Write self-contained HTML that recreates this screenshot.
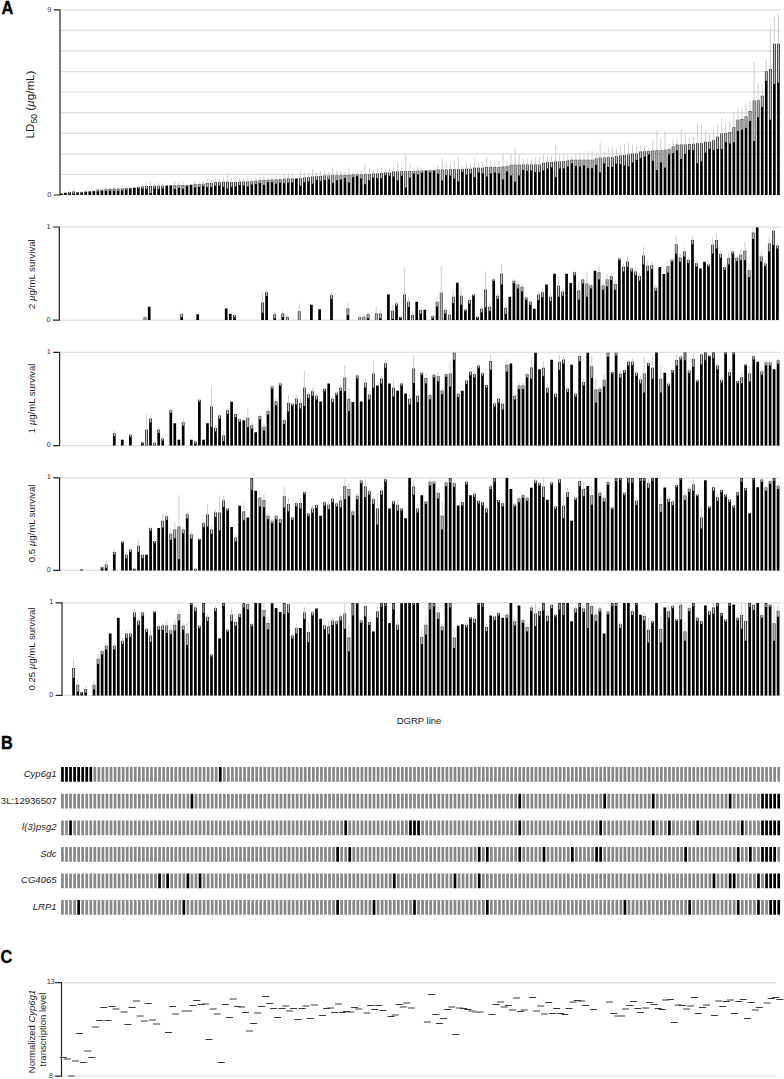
<!DOCTYPE html>
<html><head><meta charset="utf-8"><title>Figure</title>
<style>html,body{margin:0;padding:0;background:#fff;overflow:hidden;}svg{display:block;}</style>
</head><body>
<svg width="784" height="1079" viewBox="0 0 784 1079" font-family='"Liberation Sans", sans-serif'><text transform="translate(1.4 14.2) scale(0.87 1)" font-size="18.9" font-weight="bold" fill="#000" stroke="#000" stroke-width="0.35">A</text><text transform="translate(1.0 748.7) scale(0.86 1)" font-size="18.9" font-weight="bold" fill="#000" stroke="#000" stroke-width="0.35">B</text><text transform="translate(0.6 963.3) scale(0.86 1)" font-size="18.9" font-weight="bold" fill="#000" stroke="#000" stroke-width="0.35">C</text><path d="M60.5 174.43H780.5M60.5 153.87H780.5M60.5 133.3H780.5M60.5 112.73H780.5M60.5 92.17H780.5M60.5 71.6H780.5M60.5 51.03H780.5M60.5 30.47H780.5M60.5 9.9H780.5" stroke="#e0e0e0" stroke-width="1.35" fill="none"/><path d="M60.05 193.4h2.7v1.6h-2.7zM64.1 192.78h2.7v2.22h-2.7zM68.15 191.91h2.7v3.09h-2.7zM72.2 191.5h2.7v3.5h-2.7zM76.25 192.33h2.7v2.67h-2.7zM80.31 191.91h2.7v3.09h-2.7zM84.36 191.5h2.7v3.5h-2.7zM88.41 191.3h2.7v3.7h-2.7zM92.46 191.09h2.7v3.91h-2.7zM96.51 189.86h2.7v5.14h-2.7zM100.56 189.65h2.7v5.35h-2.7zM104.61 189.24h2.7v5.76h-2.7zM108.66 189.04h2.7v5.96h-2.7zM112.71 188.83h2.7v6.17h-2.7zM116.76 188.83h2.7v6.17h-2.7zM120.81 188.62h2.7v6.38h-2.7zM124.87 188.01h2.7v6.99h-2.7zM128.92 188.01h2.7v6.99h-2.7zM132.97 187.8h2.7v7.2h-2.7zM137.02 186.98h2.7v8.02h-2.7zM141.07 186.57h2.7v8.43h-2.7zM145.12 185.95h2.7v9.05h-2.7zM149.17 185.95h2.7v9.05h-2.7zM153.22 185.75h2.7v9.25h-2.7zM157.27 185.75h2.7v9.25h-2.7zM161.33 185.75h2.7v9.25h-2.7zM165.38 185.54h2.7v9.46h-2.7zM169.43 185.33h2.7v9.67h-2.7zM173.48 185.13h2.7v9.87h-2.7zM177.53 184.92h2.7v10.08h-2.7zM181.58 184.92h2.7v10.08h-2.7zM185.63 184.92h2.7v10.08h-2.7zM189.68 184.72h2.7v10.28h-2.7zM193.73 184.31h2.7v10.69h-2.7zM197.78 183.89h2.7v11.11h-2.7zM201.84 183.69h2.7v11.31h-2.7zM205.89 183.07h2.7v11.93h-2.7zM209.94 183.07h2.7v11.93h-2.7zM213.99 182.25h2.7v12.75h-2.7zM218.04 182.25h2.7v12.75h-2.7zM222.09 181.84h2.7v13.16h-2.7zM226.14 181.84h2.7v13.16h-2.7zM230.19 182.35h2.7v12.65h-2.7zM234.24 182.1h2.7v12.9h-2.7zM238.29 181.59h2.7v13.41h-2.7zM242.35 181.59h2.7v13.41h-2.7zM246.4 181.59h2.7v13.41h-2.7zM250.45 181.32h2.7v13.68h-2.7zM254.5 180.69h2.7v14.31h-2.7zM258.55 180.32h2.7v14.68h-2.7zM262.6 180.05h2.7v14.95h-2.7zM266.65 179.8h2.7v15.2h-2.7zM270.7 179.41h2.7v15.59h-2.7zM274.75 179.41h2.7v15.59h-2.7zM278.8 179.16h2.7v15.84h-2.7zM282.85 178.77h2.7v16.23h-2.7zM286.91 178.53h2.7v16.47h-2.7zM290.96 178.53h2.7v16.47h-2.7zM295.01 178.53h2.7v16.47h-2.7zM299.06 178.26h2.7v16.74h-2.7zM303.11 177.5h2.7v17.5h-2.7zM307.16 177.25h2.7v17.75h-2.7zM311.21 176.49h2.7v18.51h-2.7zM315.26 176.22h2.7v18.78h-2.7zM319.31 175.98h2.7v19.02h-2.7zM323.36 175.52h2.7v19.48h-2.7zM327.42 175.46h2.7v19.54h-2.7zM331.47 175.21h2.7v19.79h-2.7zM335.52 175.21h2.7v19.79h-2.7zM339.57 175.21h2.7v19.79h-2.7zM343.62 174.97h2.7v20.03h-2.7zM347.67 174.97h2.7v20.03h-2.7zM351.72 174.58h2.7v20.42h-2.7zM355.77 174.58h2.7v20.42h-2.7zM359.82 174.58h2.7v20.42h-2.7zM363.87 174.23h2.7v20.77h-2.7zM367.93 174.23h2.7v20.77h-2.7zM371.98 173.41h2.7v21.59h-2.7zM376.03 173.41h2.7v21.59h-2.7zM380.08 172.99h2.7v22.01h-2.7zM384.13 172.58h2.7v22.42h-2.7zM388.18 172.38h2.7v22.62h-2.7zM392.23 171.55h2.7v23.45h-2.7zM396.28 171.55h2.7v23.45h-2.7zM400.33 171.35h2.7v23.65h-2.7zM404.38 170.94h2.7v24.06h-2.7zM408.44 170.94h2.7v24.06h-2.7zM412.49 170.94h2.7v24.06h-2.7zM416.54 170.63h2.7v24.37h-2.7zM420.59 170.42h2.7v24.58h-2.7zM424.64 170.53h2.7v24.47h-2.7zM428.69 170.32h2.7v24.68h-2.7zM432.74 169.91h2.7v25.09h-2.7zM436.79 169.5h2.7v25.5h-2.7zM440.84 169.5h2.7v25.5h-2.7zM444.89 169.5h2.7v25.5h-2.7zM448.95 169.29h2.7v25.71h-2.7zM453 169.29h2.7v25.71h-2.7zM457.05 169.29h2.7v25.71h-2.7zM461.1 168.88h2.7v26.12h-2.7zM465.15 168.67h2.7v26.33h-2.7zM469.2 168.67h2.7v26.33h-2.7zM473.25 167.85h2.7v27.15h-2.7zM477.3 167.65h2.7v27.35h-2.7zM481.35 167.65h2.7v27.35h-2.7zM485.4 167.03h2.7v27.97h-2.7zM489.46 167.03h2.7v27.97h-2.7zM493.51 167.03h2.7v27.97h-2.7zM497.56 167.03h2.7v27.97h-2.7zM501.61 166.62h2.7v28.38h-2.7zM505.66 166.21h2.7v28.79h-2.7zM509.71 164.77h2.7v30.23h-2.7zM513.76 164.77h2.7v30.23h-2.7zM517.81 164.77h2.7v30.23h-2.7zM521.86 164.56h2.7v30.44h-2.7zM525.91 164.56h2.7v30.44h-2.7zM529.97 164.56h2.7v30.44h-2.7zM534.02 164.56h2.7v30.44h-2.7zM538.07 164.56h2.7v30.44h-2.7zM542.12 162.71h2.7v32.29h-2.7zM546.17 162.3h2.7v32.7h-2.7zM550.22 161.89h2.7v33.11h-2.7zM554.27 161.48h2.7v33.52h-2.7zM558.32 161.48h2.7v33.52h-2.7zM562.37 161.27h2.7v33.73h-2.7zM566.42 160.45h2.7v34.55h-2.7zM570.48 159.83h2.7v35.17h-2.7zM574.53 159.83h2.7v35.17h-2.7zM578.58 159.63h2.7v35.37h-2.7zM582.63 159.63h2.7v35.37h-2.7zM586.68 159.63h2.7v35.37h-2.7zM590.73 159.63h2.7v35.37h-2.7zM594.78 158.39h2.7v36.61h-2.7zM598.83 157.57h2.7v37.43h-2.7zM602.88 157.57h2.7v37.43h-2.7zM606.93 157.36h2.7v37.64h-2.7zM610.99 157.16h2.7v37.84h-2.7zM615.04 156.33h2.7v38.67h-2.7zM619.09 155.51h2.7v39.49h-2.7zM623.14 154.9h2.7v40.1h-2.7zM627.19 154.48h2.7v40.52h-2.7zM631.24 153.46h2.7v41.54h-2.7zM635.29 153.46h2.7v41.54h-2.7zM639.34 151.6h2.7v43.4h-2.7zM643.39 151.19h2.7v43.81h-2.7zM647.44 150.99h2.7v44.01h-2.7zM651.5 150.58h2.7v44.42h-2.7zM655.55 150.37h2.7v44.63h-2.7zM659.6 150.37h2.7v44.63h-2.7zM663.65 149.75h2.7v45.25h-2.7zM667.7 149.14h2.7v45.86h-2.7zM671.75 146.46h2.7v48.54h-2.7zM675.8 144.61h2.7v50.39h-2.7zM679.85 144.41h2.7v50.59h-2.7zM683.9 144.41h2.7v50.59h-2.7zM687.95 143.99h2.7v51.01h-2.7zM692.01 143.79h2.7v51.21h-2.7zM696.06 143.17h2.7v51.83h-2.7zM700.11 143.17h2.7v51.83h-2.7zM704.16 141.73h2.7v53.27h-2.7zM708.21 141.73h2.7v53.27h-2.7zM712.26 140.29h2.7v54.71h-2.7zM716.31 136.8h2.7v58.2h-2.7zM720.36 133.51h2.7v61.49h-2.7zM724.41 132.89h2.7v62.11h-2.7zM728.47 132.07h2.7v62.93h-2.7zM732.52 127.13h2.7v67.87h-2.7zM736.57 119.73h2.7v75.27h-2.7zM740.62 119.11h2.7v75.89h-2.7zM744.67 116.23h2.7v78.77h-2.7zM748.72 111.09h2.7v83.91h-2.7zM752.77 100.6h2.7v94.4h-2.7zM756.82 100.19h2.7v94.81h-2.7zM760.87 95.87h2.7v99.13h-2.7zM764.92 71.19h2.7v123.81h-2.7zM768.98 68.93h2.7v126.07h-2.7zM773.03 43.63h2.7v151.37h-2.7zM777.08 43.63h2.7v151.37h-2.7z" fill="#000"/><path d="M68.7 192.47h1.6v1.1h-1.6zM72.75 192.05h1.6v1.71h-1.6zM80.86 192.47h1.6v0.48h-1.6zM84.91 192.05h1.6v0.27h-1.6zM88.96 191.85h1.6v0.07h-1.6zM93.01 191.64h1.6v0.07h-1.6zM97.06 190.41h1.6v1.1h-1.6zM101.11 190.2h1.6v0.89h-1.6zM105.16 189.79h1.6v1.1h-1.6zM109.21 189.59h1.6v1.1h-1.6zM113.26 189.38h1.6v1.51h-1.6zM117.31 189.38h1.6v1.51h-1.6zM121.36 189.17h1.6v1.3h-1.6zM125.42 188.56h1.6v1.1h-1.6zM129.47 188.56h1.6v0.48h-1.6zM137.57 187.53h1.6v0.89h-1.6zM141.62 187.12h1.6v1.51h-1.6zM145.67 186.5h1.6v2.53h-1.6zM149.72 186.5h1.6v6.65h-1.6zM153.77 186.3h1.6v2.12h-1.6zM157.82 186.3h1.6v2.74h-1.6zM161.88 186.3h1.6v2.12h-1.6zM174.03 185.68h1.6v3.36h-1.6zM178.08 185.47h1.6v2.53h-1.6zM182.13 185.47h1.6v3.56h-1.6zM186.18 185.47h1.6v0.89h-1.6zM194.28 184.86h1.6v2.54h-1.6zM198.33 184.44h1.6v2.53h-1.6zM202.39 184.24h1.6v2.12h-1.6zM206.44 183.62h1.6v3.56h-1.6zM210.49 183.62h1.6v3.36h-1.6zM214.54 182.8h1.6v3.15h-1.6zM218.59 182.8h1.6v2.95h-1.6zM222.64 182.39h1.6v4.39h-1.6zM226.69 182.39h1.6v6.03h-1.6zM230.74 182.9h1.6v3.79h-1.6zM234.79 182.65h1.6v3.79h-1.6zM238.84 182.14h1.6v3.03h-1.6zM242.9 182.14h1.6v3.28h-1.6zM246.95 182.14h1.6v4.3h-1.6zM251 181.87h1.6v2.66h-1.6zM255.05 181.24h1.6v2.66h-1.6zM259.1 180.87h1.6v2.39h-1.6zM263.15 180.6h1.6v4.3h-1.6zM267.2 180.35h1.6v2h-1.6zM271.25 179.96h1.6v2.39h-1.6zM275.3 179.96h1.6v3.67h-1.6zM279.35 179.71h1.6v2.91h-1.6zM283.4 179.32h1.6v3.93h-1.6zM287.46 179.08h1.6v3.54h-1.6zM291.51 179.08h1.6v3.54h-1.6zM299.61 178.81h1.6v7h-1.6zM303.66 178.05h1.6v4.3h-1.6zM307.71 177.8h1.6v3.79h-1.6zM311.76 177.04h1.6v6.59h-1.6zM315.81 176.77h1.6v3.28h-1.6zM319.86 176.53h1.6v4.55h-1.6zM323.91 176.07h1.6v4.2h-1.6zM327.97 176.01h1.6v3.19h-1.6zM332.02 175.76h1.6v7.27h-1.6zM336.07 175.76h1.6v4.47h-1.6zM340.12 175.76h1.6v3.83h-1.6zM344.17 175.52h1.6v2.41h-1.6zM348.22 175.52h1.6v7h-1.6zM352.27 175.13h1.6v2.02h-1.6zM356.32 175.13h1.6v1.14h-1.6zM360.37 175.13h1.6v3.32h-1.6zM364.42 174.78h1.6v9.53h-1.6zM368.48 174.78h1.6v5.46h-1.6zM372.53 173.96h1.6v3.71h-1.6zM376.58 173.96h1.6v4.37h-1.6zM380.63 173.54h1.6v4.78h-1.6zM384.68 173.13h1.6v2.08h-1.6zM388.73 172.93h1.6v2.95h-1.6zM392.78 172.1h1.6v4.28h-1.6zM396.83 172.1h1.6v8.38h-1.6zM400.88 171.9h1.6v3.97h-1.6zM404.94 171.49h1.6v16.13h-1.6zM408.99 171.49h1.6v6.18h-1.6zM413.04 171.49h1.6v2.33h-1.6zM417.09 171.18h1.6v3.3h-1.6zM421.14 170.97h1.6v1.61h-1.6zM429.24 170.87h1.6v1.3h-1.6zM433.29 170.46h1.6v0.68h-1.6zM437.34 170.05h1.6v3.77h-1.6zM441.39 170.05h1.6v10.39h-1.6zM445.44 170.05h1.6v5.27h-1.6zM449.5 169.84h1.6v5.74h-1.6zM453.55 169.84h1.6v8.68h-1.6zM457.6 169.84h1.6v11.63h-1.6zM461.65 169.43h1.6v2.33h-1.6zM465.7 169.22h1.6v5.46h-1.6zM469.75 169.22h1.6v4.18h-1.6zM473.8 168.4h1.6v8.85h-1.6zM477.85 168.2h1.6v4.39h-1.6zM481.9 168.2h1.6v5.21h-1.6zM485.95 167.58h1.6v9.03h-1.6zM490.01 167.58h1.6v5.83h-1.6zM494.06 167.58h1.6v5h-1.6zM498.11 167.58h1.6v5.83h-1.6zM502.16 167.17h1.6v12.24h-1.6zM506.21 166.76h1.6v4.8h-1.6zM510.26 165.32h1.6v10.27h-1.6zM514.31 165.32h1.6v16.4h-1.6zM518.36 165.32h1.6v10.25h-1.6zM522.41 165.11h1.6v5h-1.6zM526.46 165.11h1.6v5.62h-1.6zM530.52 165.11h1.6v5.41h-1.6zM534.57 165.11h1.6v7.06h-1.6zM538.62 165.11h1.6v7.06h-1.6zM542.67 163.26h1.6v7.27h-1.6zM546.72 162.85h1.6v5.62h-1.6zM550.77 162.44h1.6v5h-1.6zM554.82 162.03h1.6v15.27h-1.6zM558.87 162.03h1.6v6.44h-1.6zM562.92 161.82h1.6v6.65h-1.6zM566.97 161h1.6v5.41h-1.6zM571.03 160.38h1.6v2.95h-1.6zM575.08 160.38h1.6v5.62h-1.6zM579.13 160.18h1.6v6.24h-1.6zM583.18 160.18h1.6v5.41h-1.6zM587.23 160.18h1.6v8.09h-1.6zM591.28 160.18h1.6v8.09h-1.6zM595.33 158.94h1.6v6.03h-1.6zM599.38 158.12h1.6v14.26h-1.6zM603.43 158.12h1.6v5.41h-1.6zM607.48 157.91h1.6v9.12h-1.6zM611.54 157.71h1.6v9.32h-1.6zM615.59 156.88h1.6v6.85h-1.6zM619.64 156.06h1.6v8.29h-1.6zM623.69 155.45h1.6v9.94h-1.6zM627.74 155.03h1.6v11.38h-1.6zM631.79 154.01h1.6v8.5h-1.6zM635.84 154.01h1.6v6.03h-1.6zM639.89 152.15h1.6v5.83h-1.6zM643.94 151.74h1.6v5h-1.6zM647.99 151.54h1.6v2.95h-1.6zM652.05 151.13h1.6v9.53h-1.6zM656.1 150.92h1.6v19.19h-1.6zM660.15 150.92h1.6v11.58h-1.6zM664.2 150.3h1.6v17.34h-1.6zM668.25 149.69h1.6v4.8h-1.6zM672.3 147.01h1.6v6.24h-1.6zM676.35 145.16h1.6v5.21h-1.6zM680.4 144.96h1.6v14.05h-1.6zM684.45 144.96h1.6v9.12h-1.6zM688.5 144.54h1.6v5.41h-1.6zM692.56 144.34h1.6v6.03h-1.6zM696.61 143.72h1.6v19.61h-1.6zM700.66 143.72h1.6v17.75h-1.6zM704.71 142.28h1.6v10.35h-1.6zM708.76 142.28h1.6v6.65h-1.6zM712.81 140.84h1.6v9.12h-1.6zM716.86 137.35h1.6v11.58h-1.6zM720.91 134.06h1.6v14.88h-1.6zM724.96 133.44h1.6v8.91h-1.6zM729.01 132.62h1.6v10.97h-1.6zM733.07 127.68h1.6v14.67h-1.6zM737.12 120.28h1.6v10.76h-1.6zM741.17 119.66h1.6v10.14h-1.6zM745.22 116.78h1.6v11.17h-1.6zM749.27 111.64h1.6v9.32h-1.6zM753.32 101.15h1.6v39.97h-1.6zM757.37 100.74h1.6v16.52h-1.6zM761.42 96.42h1.6v10.56h-1.6zM765.47 71.74h1.6v9.12h-1.6zM769.52 69.48h1.6v50.25h-1.6zM773.58 44.18h1.6v39.76h-1.6zM777.63 44.18h1.6v38.53h-1.6z" fill="#8c8c8c"/><path d="M61.4 193.26V193.23M65.45 193.05V192.2M69.5 193.26V190.27M73.55 193.47V189.24M77.6 192.44V191.91M81.66 192.64V190.89M85.71 192.03V190.68M89.76 191.61V190.68M93.81 191.41V190.48M97.86 191.2V188.21M101.91 190.79V188.21M105.96 190.59V187.6M110.01 190.38V187.39M114.06 190.59V186.77M118.11 190.59V186.77M122.16 190.18V186.77M126.22 189.35V186.36M130.27 188.74V186.98M134.32 187.71V187.6M138.37 188.12V185.54M142.42 188.32V184.51M146.47 188.74V182.87M150.52 192.85V180.19M154.57 188.12V183.07M158.62 188.74V182.45M162.68 188.12V183.07M166.73 185.65V185.13M170.78 185.44V184.92M174.83 188.74V181.22M178.88 187.71V181.84M182.93 188.74V180.81M186.98 186.06V183.48M191.03 184.83V184.31M195.08 187.09V181.22M199.13 186.68V180.81M203.19 186.06V181.01M207.24 186.88V178.96M211.29 186.68V179.16M215.34 185.65V178.55M219.39 185.44V178.75M223.44 186.47V176.9M227.49 188.12V175.26M231.54 186.39V178.01M235.59 186.14V177.77M239.64 184.87V178.01M243.7 185.12V177.77M247.75 186.14V176.74M251.8 184.23V178.11M255.85 183.59V177.48M259.9 182.96V177.37M263.95 184.6V175.19M268 182.05V177.25M272.05 182.05V176.47M276.1 183.33V175.19M280.15 182.32V175.71M284.2 182.96V174.29M288.26 182.32V174.43M292.31 182.32V174.43M296.36 178.47V178.28M300.41 185.51V170.71M304.46 182.05V172.64M308.51 181.29V172.91M312.56 183.33V169.35M316.61 179.75V172.4M320.66 180.78V170.88M324.71 179.97V170.77M328.77 178.9V171.72M332.82 182.73V167.4M336.87 179.93V170.2M340.92 179.3V170.83M344.97 177.63V172.01M349.02 182.22V167.42M353.07 176.85V172.01M357.12 175.96V172.89M361.17 178.14V170.71M365.22 184.01V164.15M369.28 179.93V168.22M373.33 177.36V169.15M377.38 178.02V168.49M381.43 178.02V167.67M385.48 174.91V169.95M389.53 175.57V168.88M393.58 176.09V166.72M397.63 180.18V162.63M401.68 175.57V166.82M405.74 187.32V154.26M409.79 177.36V164.21M413.84 173.52V168.06M417.89 174.17V166.78M421.94 172.28V168.26M425.99 170.64V170.11M430.04 171.87V168.47M434.09 170.84V168.67M438.14 173.52V165.18M442.19 180.14V158.56M446.25 175.02V163.68M450.3 175.29V163M454.35 178.23V160.06M458.4 181.17V157.12M462.45 171.46V166M466.5 174.38V162.67M470.55 173.1V163.94M474.6 176.95V158.45M478.65 172.28V162.71M482.7 173.1V161.89M486.75 176.31V157.45M490.81 173.1V160.65M494.86 172.28V161.48M498.91 173.1V160.65M502.96 179.11V153.83M507.01 171.25V160.86M511.06 175.29V153.95M515.11 181.41V147.82M519.16 175.26V153.97M523.21 169.81V159.01M527.26 170.43V158.39M531.32 170.23V158.6M535.37 171.87V156.95M539.42 171.87V156.95M543.47 170.23V154.89M547.52 168.17V156.13M551.57 167.14V156.33M555.62 176.99V145.66M559.67 168.17V154.48M563.72 168.17V154.07M567.77 166.11V154.48M571.83 163.03V156.33M575.88 165.7V153.66M579.93 166.11V152.84M583.98 165.29V153.66M588.03 167.96V150.99M592.08 167.96V150.99M596.13 164.67V151.81M600.18 172.08V142.76M604.23 163.23V151.6M608.28 166.73V147.7M612.34 166.73V147.29M616.39 163.44V148.93M620.44 164.06V146.67M624.49 165.08V144.41M628.54 166.11V142.56M632.59 162.2V144.41M636.64 159.74V146.87M640.69 157.68V145.23M644.74 156.45V145.64M648.79 154.18V147.49M652.85 160.35V140.5M656.9 169.81V130.63M660.95 162.2V138.24M665 167.35V131.86M669.05 154.18V143.79M673.1 152.95V139.68M677.15 150.07V138.85M681.2 158.71V129.8M685.25 153.77V134.74M689.3 149.66V138.03M693.36 150.07V137.21M697.41 163.03V123.02M701.46 161.18V124.87M705.51 152.33V130.83M709.56 148.63V134.53M713.61 149.66V130.63M717.66 148.63V124.66M721.71 148.63V118.08M725.76 142.05V123.43M729.82 143.28V120.55M733.87 142.05V111.91M737.92 130.74V108.41M741.97 129.5V108.41M746.02 127.65V104.51M750.07 120.66V101.22M754.12 140.82V62.14M758.17 116.96V83.12M762.22 106.67V84.76M766.27 80.56V60.29M770.33 119.43V28.41M774.38 83.64V17.1M778.43 82.41V14.42" stroke="#c8c8c8" stroke-width="0.9" fill="none"/><path d="M53.6 9.9H60V195H53.6" stroke="#222" stroke-width="1.2" fill="none"/><text x="49.3" y="196.6" font-size="7.3" text-anchor="middle" fill="#333">0</text><text x="49.3" y="11.5" font-size="7.3" text-anchor="middle" fill="#333">9</text><text transform="translate(34.2 104.5) rotate(-90)" font-size="11.6" text-anchor="middle" fill="#1a1a1a">LD<tspan font-size="8.6" dy="2.6">50</tspan><tspan dy="-2.6"> (</tspan><tspan font-style="italic">µ</tspan>g/mL)</text><path d="M59.8 320.1H780.5M59.8 227H780.5" stroke="#e0e0e0" stroke-width="1.35" fill="none"/><path d="M143.65 317.31h2.7v2.79h-2.7zM147.85 306.69h2.7v13.41h-2.7zM180.35 314.33h2.7v5.77h-2.7zM196.35 314.33h2.7v5.77h-2.7zM224.85 308.56h2.7v11.54h-2.7zM228.95 313.86h2.7v6.24h-2.7zM233.15 315.07h2.7v5.03h-2.7zM261.25 302.41h2.7v17.69h-2.7zM265.25 292.17h2.7v27.93h-2.7zM273.35 314.33h2.7v5.77h-2.7zM281.45 313.58h2.7v6.52h-2.7zM285.95 317.12h2.7v2.98h-2.7zM297.85 311.26h2.7v8.84h-2.7zM310.05 304.65h2.7v15.45h-2.7zM318.25 309.3h2.7v10.8h-2.7zM330.15 295.24h2.7v24.86h-2.7zM346.55 308.56h2.7v11.54h-2.7zM358.45 317.31h2.7v2.79h-2.7zM362.55 316.66h2.7v3.44h-2.7zM366.75 314.33h2.7v5.77h-2.7zM374.85 313.58h2.7v6.52h-2.7zM378.95 313.58h2.7v6.52h-2.7zM387.05 294.4h2.7v25.7h-2.7zM391.25 310.79h2.7v9.31h-2.7zM395.15 303.62h2.7v16.48h-2.7zM399.05 316.93h2.7v3.17h-2.7zM403.15 294.4h2.7v25.7h-2.7zM407.25 301.67h2.7v18.43h-2.7zM411.25 315.07h2.7v5.03h-2.7zM415.35 301.67h2.7v18.43h-2.7zM419.35 310.05h2.7v10.05h-2.7zM423.45 309.77h2.7v10.33h-2.7zM431.45 315.91h2.7v4.19h-2.7zM435.75 301.67h2.7v18.43h-2.7zM439.85 292.64h2.7v27.46h-2.7zM443.85 310.05h2.7v10.05h-2.7zM447.95 314.7h2.7v5.4h-2.7zM451.95 296.73h2.7v23.37h-2.7zM455.95 282.67h2.7v37.43h-2.7zM459.95 295.71h2.7v24.39h-2.7zM464.05 309.49h2.7v10.61h-2.7zM468.05 300.08h2.7v20.02h-2.7zM472.15 294.4h2.7v25.7h-2.7zM476.15 316.66h2.7v3.44h-2.7zM480.25 308.65h2.7v11.45h-2.7zM484.25 289.38h2.7v30.72h-2.7zM488.35 306.69h2.7v13.41h-2.7zM492.35 279.42h2.7v40.68h-2.7zM496.35 295.71h2.7v24.39h-2.7zM500.35 273.74h2.7v46.36h-2.7zM504.35 307.72h2.7v12.38h-2.7zM508.45 296.73h2.7v23.37h-2.7zM512.55 280.63h2.7v39.47h-2.7zM516.55 284.44h2.7v35.66h-2.7zM520.65 286.77h2.7v33.33h-2.7zM524.85 297.48h2.7v22.62h-2.7zM528.95 301.76h2.7v18.34h-2.7zM532.95 308.65h2.7v11.45h-2.7zM537.05 294.4h2.7v25.7h-2.7zM541.05 292.17h2.7v27.93h-2.7zM545.15 284.44h2.7v35.66h-2.7zM549.15 296.73h2.7v23.37h-2.7zM553.15 273.74h2.7v46.36h-2.7zM557.25 285.75h2.7v34.35h-2.7zM561.25 291.43h2.7v28.67h-2.7zM565.25 273.74h2.7v46.36h-2.7zM569.35 282.95h2.7v37.15h-2.7zM573.35 272.25h2.7v47.85h-2.7zM577.45 290.59h2.7v29.51h-2.7zM581.45 279.42h2.7v40.68h-2.7zM585.55 283.42h2.7v36.68h-2.7zM589.55 285.56h2.7v34.54h-2.7zM593.65 270.66h2.7v49.44h-2.7zM597.65 272.25h2.7v47.85h-2.7zM601.75 285.56h2.7v34.54h-2.7zM605.75 279.42h2.7v40.68h-2.7zM609.85 276.34h2.7v43.76h-2.7zM613.85 284.07h2.7v36.03h-2.7zM618.05 258.47h2.7v61.63h-2.7zM622.15 266.85h2.7v53.25h-2.7zM626.15 261.54h2.7v58.56h-2.7zM630.25 268.43h2.7v51.67h-2.7zM634.25 271.5h2.7v48.6h-2.7zM638.25 276.06h2.7v44.04h-2.7zM642.15 255.49h2.7v64.61h-2.7zM646.35 265.64h2.7v54.46h-2.7zM650.45 265.17h2.7v54.93h-2.7zM654.45 287.7h2.7v32.4h-2.7zM658.45 266.94h2.7v53.16h-2.7zM662.55 273.92h2.7v46.18h-2.7zM666.55 266.29h2.7v53.81h-2.7zM670.65 259.77h2.7v60.33h-2.7zM674.85 244.13h2.7v75.97h-2.7zM678.85 257.44h2.7v62.66h-2.7zM682.95 251.58h2.7v68.52h-2.7zM686.95 259.77h2.7v60.33h-2.7zM691.15 240.03h2.7v80.07h-2.7zM695.05 263.31h2.7v56.79h-2.7zM699.05 268.43h2.7v51.67h-2.7zM703.15 261.63h2.7v58.47h-2.7zM707.15 264.43h2.7v55.67h-2.7zM711.25 244.69h2.7v75.41h-2.7zM715.25 240.03h2.7v80.07h-2.7zM719.25 254h2.7v66.1h-2.7zM723.35 267.03h2.7v53.07h-2.7zM727.35 258.37h2.7v61.73h-2.7zM731.45 251.39h2.7v68.71h-2.7zM735.45 257.72h2.7v62.38h-2.7zM739.45 254.65h2.7v65.45h-2.7zM743.55 250.65h2.7v69.45h-2.7zM747.75 270.29h2.7v49.81h-2.7zM751.85 232.59h2.7v87.51h-2.7zM755.85 227.47h2.7v92.63h-2.7zM759.85 256.51h2.7v63.59h-2.7zM763.95 263.5h2.7v56.6h-2.7zM767.95 243.57h2.7v76.53h-2.7zM772.05 230.72h2.7v89.38h-2.7zM776.05 245.43h2.7v74.67h-2.7z" fill="#000"/><path d="M144.2 317.86h1.6v2.24h-1.6zM180.9 314.88h1.6v2.43h-1.6zM233.7 315.62h1.6v1.68h-1.6zM261.8 302.96h1.6v9.88h-1.6zM265.8 292.72h1.6v3.17h-1.6zM273.9 314.88h1.6v3.36h-1.6zM282 314.13h1.6v3.17h-1.6zM286.5 317.67h1.6v2.43h-1.6zM298.4 311.81h1.6v8.29h-1.6zM330.7 295.79h1.6v3.27h-1.6zM347.1 309.11h1.6v5.97h-1.6zM359 317.86h1.6v2.24h-1.6zM363.1 317.21h1.6v2.89h-1.6zM367.3 314.88h1.6v3.36h-1.6zM375.4 314.13h1.6v5.97h-1.6zM379.5 314.13h1.6v4.1h-1.6zM391.8 311.34h1.6v7.64h-1.6zM395.7 304.17h1.6v1.78h-1.6zM399.6 317.48h1.6v0.75h-1.6zM403.7 294.95h1.6v25.15h-1.6zM407.8 302.22h1.6v4.85h-1.6zM411.8 315.62h1.6v4.48h-1.6zM419.9 310.6h1.6v2.99h-1.6zM432 316.46h1.6v1.78h-1.6zM436.3 302.22h1.6v4.2h-1.6zM440.4 293.19h1.6v26.91h-1.6zM444.4 310.6h1.6v2.99h-1.6zM448.5 315.25h1.6v4.85h-1.6zM452.5 297.28h1.6v6.06h-1.6zM460.5 296.26h1.6v8.39h-1.6zM464.6 310.04h1.6v1.22h-1.6zM468.6 300.63h1.6v2.99h-1.6zM472.7 294.95h1.6v1.31h-1.6zM476.7 317.21h1.6v1.03h-1.6zM480.8 309.2h1.6v3.27h-1.6zM484.8 289.93h1.6v17.51h-1.6zM488.9 307.24h1.6v4.01h-1.6zM492.9 279.97h1.6v1.03h-1.6zM496.9 296.26h1.6v2.8h-1.6zM500.9 274.29h1.6v10.16h-1.6zM504.9 308.27h1.6v5.78h-1.6zM513.1 281.18h1.6v2.06h-1.6zM517.1 284.99h1.6v3.45h-1.6zM521.2 287.32h1.6v4.1h-1.6zM525.4 298.03h1.6v1.78h-1.6zM529.5 302.31h1.6v2.52h-1.6zM537.6 294.95h1.6v5.32h-1.6zM541.6 292.72h1.6v4.48h-1.6zM549.7 297.28h1.6v4.01h-1.6zM557.8 286.3h1.6v10.44h-1.6zM561.8 291.98h1.6v3.73h-1.6zM573.9 272.8h1.6v2.52h-1.6zM578 291.14h1.6v8.67h-1.6zM582 279.97h1.6v3.45h-1.6zM586.1 283.97h1.6v12.76h-1.6zM590.1 286.11h1.6v2.34h-1.6zM598.2 272.8h1.6v6.62h-1.6zM602.3 286.11h1.6v3.73h-1.6zM606.3 279.97h1.6v6.53h-1.6zM610.4 276.89h1.6v2.99h-1.6zM614.4 284.62h1.6v5.22h-1.6zM618.6 259.02h1.6v1.41h-1.6zM622.7 267.4h1.6v4.1h-1.6zM626.7 262.09h1.6v4.76h-1.6zM630.8 268.98h1.6v2.52h-1.6zM634.8 272.05h1.6v3.27h-1.6zM638.8 276.61h1.6v4.01h-1.6zM642.7 256.04h1.6v8.48h-1.6zM646.9 266.19h1.6v5.04h-1.6zM651 265.72h1.6v3.17h-1.6zM655 288.25h1.6v2.52h-1.6zM667.1 266.84h1.6v5.59h-1.6zM671.2 260.32h1.6v1.13h-1.6zM675.4 244.68h1.6v9.04h-1.6zM679.4 257.99h1.6v3.64h-1.6zM683.5 252.13h1.6v4.38h-1.6zM687.5 260.32h1.6v2.99h-1.6zM691.7 240.58h1.6v3.55h-1.6zM695.6 263.86h1.6v2.71h-1.6zM707.7 264.98h1.6v1.59h-1.6zM711.8 245.24h1.6v8.2h-1.6zM715.8 240.58h1.6v7.83h-1.6zM719.8 254.55h1.6v3.17h-1.6zM723.9 267.58h1.6v2.24h-1.6zM727.9 258.92h1.6v5.5h-1.6zM732 251.94h1.6v1.78h-1.6zM736 258.27h1.6v2.8h-1.6zM740 255.2h1.6v4.94h-1.6zM744.1 251.2h1.6v8.95h-1.6zM748.3 270.84h1.6v6.43h-1.6zM752.4 233.14h1.6v5.97h-1.6zM760.4 257.06h1.6v4.38h-1.6zM764.5 264.05h1.6v2.24h-1.6zM768.5 244.12h1.6v7.46h-1.6zM772.6 231.27h1.6v13.69h-1.6zM776.6 245.98h1.6v2.43h-1.6z" fill="#8c8c8c"/><path d="M145 319.8V315.45M181.7 317.01V311.26M234.5 317.01V313.58M262.6 312.54V292.64M266.6 295.59V289.38M274.7 317.94V312.09M282.8 317.01V310.79M287.3 319.8V314.79M299.2 319.8V303.34M331.5 298.76V292.45M347.9 314.77V302.41M359.8 319.8V315.07M363.9 319.8V313.58M368.1 317.94V312.09M376.2 319.8V307.07M380.3 317.94V310.23M392.6 318.68V304.65M396.5 305.65V301.48M400.4 317.94V315.07M404.5 319.8V268.43M408.6 306.77V296.83M412.6 319.8V311.26M420.7 313.28V307.9M432.8 317.94V314.79M437.1 306.11V297.01M441.2 319.8V265.82M445.2 313.28V307.72M449.3 319.8V309.39M453.3 303.04V291.7M461.3 304.35V287.51M465.4 310.96V307.9M469.4 303.32V297.94M473.5 295.97V293.66M477.5 317.94V315.07M481.6 312.17V305.86M485.6 307.14V271.69M489.7 310.96V302.88M493.7 280.7V278.3M497.7 298.76V292.64M501.7 284.14V263.87M505.7 313.75V302.04M513.9 282.93V279.14M517.9 288.15V281.46M522 291.13V283.79M526.2 299.5V295.89M530.3 304.53V300.18M538.4 299.97V290.59M542.4 296.9V288.35M550.5 300.99V293.19M558.6 296.43V276.81M562.6 295.41V288.07M574.7 275.02V271.13M578.8 299.5V282.21M582.8 283.12V276.81M586.9 296.43V271.5M590.9 288.15V283.79M599 279.12V265.82M603.1 289.54V282.21M607.1 286.19V273.74M611.2 279.58V273.74M615.2 289.54V279.88M619.4 260.12V256.89M623.5 271.2V263.77M627.5 266.55V256.89M631.6 271.2V266.85M635.6 275.02V268.06M639.6 280.33V272.99M643.5 264.22V247.2M647.7 270.92V260.52M651.8 268.59V261.91M655.8 290.47V284.91M667.9 272.13V260.8M672 261.15V258.28M676.2 253.42V235.38M680.2 261.33V253.72M684.3 256.21V247.3M688.3 263.01V257.44M692.5 243.83V236.78M696.4 266.27V260.8M708.5 266.27V262.56M712.6 253.14V238.17M716.6 248.11V233.52M720.6 257.42V250.93M724.7 269.53V264.8M728.7 264.13V252.88M732.8 253.42V250.09M736.8 260.77V256.42M740.8 259.84V249.62M744.9 259.84V241.9M749.1 276.97V263.87M753.2 238.8V227.93M761.2 261.15V251.86M765.3 265.99V261.07M769.3 251.28V236.78M773.4 244.67V227.93M777.4 248.11V242.64" stroke="#c8c8c8" stroke-width="0.9" fill="none"/><path d="M52.9 227H59.3V320.1H52.9" stroke="#222" stroke-width="1.2" fill="none"/><text x="48.6" y="321.7" font-size="7.3" text-anchor="middle" fill="#333">0</text><text x="48.6" y="228.6" font-size="7.3" text-anchor="middle" fill="#333">1</text><text transform="translate(34.6 274.2) rotate(-90)" font-size="9.6" text-anchor="middle" fill="#1a1a1a">2 <tspan font-style="italic">µ</tspan>g/mL survival</text><path d="M60.1 445.6H780.5M60.1 352.4H780.5" stroke="#e0e0e0" stroke-width="1.35" fill="none"/><path d="M112.95 433.2h2.7v12.4h-2.7zM120.95 439.82h2.7v5.78h-2.7zM129.05 434.7h2.7v10.9h-2.7zM141.05 442.15h2.7v3.45h-2.7zM145.15 429.66h2.7v15.94h-2.7zM149.15 418.39h2.7v27.21h-2.7zM153.25 442.71h2.7v2.89h-2.7zM157.35 429.38h2.7v16.22h-2.7zM161.35 438.61h2.7v6.99h-2.7zM169.45 410.28h2.7v35.32h-2.7zM173.45 423.23h2.7v22.37h-2.7zM177.55 439.64h2.7v5.96h-2.7zM181.85 422.21h2.7v23.39h-2.7zM189.95 439.64h2.7v5.96h-2.7zM194.05 441.59h2.7v4.01h-2.7zM198.05 399.84h2.7v45.76h-2.7zM202.25 439.64h2.7v5.96h-2.7zM206.15 423.23h2.7v22.37h-2.7zM210.15 406.46h2.7v39.14h-2.7zM214.15 427.89h2.7v17.71h-2.7zM218.25 415.59h2.7v30.01h-2.7zM222.25 435.53h2.7v10.07h-2.7zM226.25 410.28h2.7v35.32h-2.7zM230.25 401.8h2.7v43.8h-2.7zM234.35 414.1h2.7v31.5h-2.7zM238.35 419.13h2.7v26.47h-2.7zM242.45 420.16h2.7v25.44h-2.7zM246.45 417.64h2.7v27.96h-2.7zM250.45 425.28h2.7v20.32h-2.7zM254.35 432.18h2.7v13.42h-2.7zM258.55 416.06h2.7v29.54h-2.7zM262.65 426.77h2.7v18.83h-2.7zM266.65 411.02h2.7v34.58h-2.7zM270.75 386.51h2.7v59.09h-2.7zM274.75 401.33h2.7v44.27h-2.7zM278.85 383.53h2.7v62.07h-2.7zM282.85 420.16h2.7v25.44h-2.7zM287.05 402.63h2.7v42.97h-2.7zM290.95 403.85h2.7v41.75h-2.7zM294.95 398.81h2.7v46.79h-2.7zM299.05 402.91h2.7v42.69h-2.7zM303.05 387.82h2.7v57.78h-2.7zM307.05 394.25h2.7v51.35h-2.7zM311.15 391.17h2.7v54.43h-2.7zM315.15 395.74h2.7v49.86h-2.7zM319.25 401.42h2.7v44.18h-2.7zM323.25 388.84h2.7v56.76h-2.7zM327.35 383.53h2.7v62.07h-2.7zM331.25 398.81h2.7v46.79h-2.7zM335.35 392.76h2.7v52.84h-2.7zM339.35 387.63h2.7v57.97h-2.7zM343.45 377.66h2.7v67.94h-2.7zM347.55 398.81h2.7v46.79h-2.7zM351.55 401.89h2.7v43.71h-2.7zM355.85 375.42h2.7v70.18h-2.7zM359.85 401.42h2.7v44.18h-2.7zM363.95 382.78h2.7v62.82h-2.7zM367.95 394.53h2.7v51.07h-2.7zM372.05 373.56h2.7v72.04h-2.7zM376.05 385.39h2.7v60.21h-2.7zM380.15 378.59h2.7v67.01h-2.7zM384.15 363.3h2.7v82.3h-2.7zM388.15 383.53h2.7v62.07h-2.7zM392.15 387.63h2.7v57.97h-2.7zM396.25 390.71h2.7v54.89h-2.7zM400.25 383.53h2.7v62.07h-2.7zM404.25 393.5h2.7v52.1h-2.7zM408.25 398.81h2.7v46.79h-2.7zM412.35 368.62h2.7v76.98h-2.7zM416.25 395.74h2.7v49.86h-2.7zM420.45 372.81h2.7v72.79h-2.7zM424.55 378.12h2.7v67.48h-2.7zM428.65 394.99h2.7v50.61h-2.7zM432.65 374.77h2.7v70.83h-2.7zM436.85 376.26h2.7v69.34h-2.7zM440.75 390.43h2.7v55.17h-2.7zM444.75 374.3h2.7v71.3h-2.7zM448.85 373.56h2.7v72.04h-2.7zM452.85 352.87h2.7v92.73h-2.7zM456.85 393.78h2.7v51.82h-2.7zM460.95 390.71h2.7v54.89h-2.7zM465.15 380.45h2.7v65.15h-2.7zM469.15 371.69h2.7v73.91h-2.7zM473.05 374.3h2.7v71.3h-2.7zM477.25 365.54h2.7v80.06h-2.7zM481.15 373.18h2.7v72.42h-2.7zM485.15 385.02h2.7v60.58h-2.7zM489.35 360.97h2.7v84.63h-2.7zM493.25 403.38h2.7v42.22h-2.7zM497.25 398.81h2.7v46.79h-2.7zM501.35 403.85h2.7v41.75h-2.7zM505.55 364.7h2.7v80.9h-2.7zM509.55 363.58h2.7v82.02h-2.7zM513.45 395.74h2.7v49.86h-2.7zM517.65 385.39h2.7v60.21h-2.7zM521.65 385.39h2.7v60.21h-2.7zM525.75 374.3h2.7v71.3h-2.7zM529.95 367.41h2.7v78.19h-2.7zM534.15 352.87h2.7v92.73h-2.7zM538.15 369.27h2.7v76.33h-2.7zM542.05 367.87h2.7v77.73h-2.7zM546.05 387.63h2.7v57.97h-2.7zM550.25 359.76h2.7v85.84h-2.7zM554.15 393.78h2.7v51.82h-2.7zM558.15 361.63h2.7v83.97h-2.7zM562.15 359.48h2.7v86.12h-2.7zM566.25 388.84h2.7v56.76h-2.7zM570.25 364.7h2.7v80.9h-2.7zM574.25 393.78h2.7v51.82h-2.7zM578.35 355.94h2.7v89.66h-2.7zM582.35 381.94h2.7v63.66h-2.7zM586.45 352.87h2.7v92.73h-2.7zM590.45 366.19h2.7v79.41h-2.7zM594.55 389.59h2.7v56.01h-2.7zM598.55 388.84h2.7v56.76h-2.7zM602.75 379.71h2.7v65.89h-2.7zM606.65 352.87h2.7v92.73h-2.7zM610.85 371.97h2.7v73.63h-2.7zM614.75 352.87h2.7v92.73h-2.7zM618.95 373.84h2.7v71.76h-2.7zM622.95 370.01h2.7v75.59h-2.7zM627.05 361.63h2.7v83.97h-2.7zM631.05 361.63h2.7v83.97h-2.7zM635.15 372.81h2.7v72.79h-2.7zM639.15 379.43h2.7v66.17h-2.7zM642.85 373.56h2.7v72.04h-2.7zM647.05 363.12h2.7v82.48h-2.7zM651.15 367.68h2.7v77.92h-2.7zM655.15 352.49h2.7v93.11h-2.7zM659.45 378.78h2.7v66.82h-2.7zM663.45 372.72h2.7v72.88h-2.7zM667.35 383.72h2.7v61.88h-2.7zM671.35 370.11h2.7v75.49h-2.7zM675.35 360.04h2.7v85.56h-2.7zM679.45 356.69h2.7v88.91h-2.7zM683.65 352.49h2.7v93.11h-2.7zM687.85 370.48h2.7v75.12h-2.7zM691.95 358.92h2.7v86.68h-2.7zM695.95 380.27h2.7v65.33h-2.7zM700.05 354.54h2.7v91.06h-2.7zM704.05 352.49h2.7v93.11h-2.7zM708.05 355.85h2.7v89.75h-2.7zM712.15 352.49h2.7v93.11h-2.7zM716.15 365.54h2.7v80.06h-2.7zM720.25 379.71h2.7v65.89h-2.7zM724.25 352.49h2.7v93.11h-2.7zM728.25 372.34h2.7v73.26h-2.7zM732.35 352.49h2.7v93.11h-2.7zM736.35 380.92h2.7v64.68h-2.7zM740.25 377.28h2.7v68.32h-2.7zM744.25 364.61h2.7v80.99h-2.7zM748.35 373.56h2.7v72.04h-2.7zM752.35 356.31h2.7v89.29h-2.7zM756.35 361.81h2.7v83.79h-2.7zM760.45 371.41h2.7v74.19h-2.7zM764.65 362.56h2.7v83.04h-2.7zM768.75 362.56h2.7v83.04h-2.7zM772.75 369.18h2.7v76.42h-2.7zM776.75 360.32h2.7v85.28h-2.7z" fill="#000"/><path d="M113.5 433.75h1.6v2.53h-1.6zM129.6 435.25h1.6v1.78h-1.6zM141.6 442.7h1.6v1.03h-1.6zM145.7 430.21h1.6v15.39h-1.6zM149.7 418.94h1.6v3.55h-1.6zM153.8 443.26h1.6v2.34h-1.6zM157.9 429.93h1.6v2.99h-1.6zM161.9 439.16h1.6v1.41h-1.6zM170 410.83h1.6v2.15h-1.6zM182.4 422.76h1.6v3.08h-1.6zM194.6 442.14h1.6v1.59h-1.6zM198.6 400.39h1.6v1.41h-1.6zM210.7 407.01h1.6v20.14h-1.6zM214.7 428.44h1.6v2.99h-1.6zM218.8 416.14h1.6v2.53h-1.6zM222.8 436.08h1.6v4.86h-1.6zM226.8 410.83h1.6v3.27h-1.6zM234.9 414.65h1.6v2.53h-1.6zM238.9 419.68h1.6v2.06h-1.6zM247 418.19h1.6v8.96h-1.6zM251 425.83h1.6v2.81h-1.6zM259.1 416.61h1.6v2.81h-1.6zM263.2 427.32h1.6v3.27h-1.6zM267.2 411.57h1.6v2.99h-1.6zM271.3 387.06h1.6v1.78h-1.6zM275.3 401.88h1.6v3.46h-1.6zM279.4 384.08h1.6v1.69h-1.6zM283.4 420.71h1.6v3.27h-1.6zM287.6 403.18h1.6v8.3h-1.6zM291.5 404.4h1.6v1.31h-1.6zM295.5 399.36h1.6v5.04h-1.6zM299.6 403.46h1.6v4.95h-1.6zM303.6 388.37h1.6v17.62h-1.6zM307.6 394.8h1.6v3.27h-1.6zM311.7 391.72h1.6v4.02h-1.6zM315.7 396.29h1.6v3.27h-1.6zM323.8 389.39h1.6v1.78h-1.6zM331.8 399.36h1.6v2.9h-1.6zM335.9 393.31h1.6v2.06h-1.6zM339.9 388.18h1.6v2.53h-1.6zM344 378.21h1.6v12.96h-1.6zM348.1 399.36h1.6v11.75h-1.6zM356.4 375.97h1.6v2.53h-1.6zM364.5 383.33h1.6v4.3h-1.6zM368.5 395.08h1.6v4.48h-1.6zM372.6 374.11h1.6v13.52h-1.6zM380.7 379.14h1.6v4.39h-1.6zM384.7 363.85h1.6v3.92h-1.6zM392.7 388.18h1.6v8.3h-1.6zM400.8 384.08h1.6v1.69h-1.6zM408.8 399.36h1.6v5.04h-1.6zM412.9 369.17h1.6v13.9h-1.6zM416.8 396.29h1.6v5.97h-1.6zM421 373.36h1.6v1.69h-1.6zM425.1 378.67h1.6v4.86h-1.6zM429.2 395.54h1.6v4.02h-1.6zM433.2 375.32h1.6v2.06h-1.6zM437.4 376.81h1.6v4.67h-1.6zM441.3 390.98h1.6v3.27h-1.6zM445.3 374.85h1.6v1.78h-1.6zM449.4 374.11h1.6v12.4h-1.6zM453.4 353.42h1.6v6.44h-1.6zM457.4 394.33h1.6v2.9h-1.6zM465.7 381h1.6v2.99h-1.6zM469.7 372.24h1.6v3.08h-1.6zM473.6 374.85h1.6v2.53h-1.6zM477.8 366.09h1.6v2.06h-1.6zM481.7 373.73h1.6v2.06h-1.6zM485.7 385.57h1.6v2.06h-1.6zM489.9 361.52h1.6v8.21h-1.6zM493.8 403.93h1.6v2.53h-1.6zM497.8 399.36h1.6v3.27h-1.6zM501.9 404.4h1.6v5.14h-1.6zM506.1 365.25h1.6v6.44h-1.6zM514 396.29h1.6v3.27h-1.6zM518.2 385.94h1.6v3.18h-1.6zM522.2 385.94h1.6v3.18h-1.6zM526.3 374.85h1.6v2.53h-1.6zM530.5 367.96h1.6v10.91h-1.6zM542.6 368.42h1.6v7.84h-1.6zM546.6 388.18h1.6v4.48h-1.6zM554.7 394.33h1.6v2.9h-1.6zM558.7 362.18h1.6v7.56h-1.6zM562.7 360.03h1.6v3.55h-1.6zM566.8 389.39h1.6v2.53h-1.6zM574.8 394.33h1.6v2.15h-1.6zM578.9 356.49h1.6v4.76h-1.6zM582.9 382.49h1.6v2.99h-1.6zM591 366.74h1.6v11.1h-1.6zM595.1 390.14h1.6v12.5h-1.6zM599.1 389.39h1.6v2.53h-1.6zM603.3 380.26h1.6v6.25h-1.6zM607.2 353.42h1.6v3.27h-1.6zM611.4 372.52h1.6v1.31h-1.6zM615.3 353.42h1.6v2.06h-1.6zM619.5 374.39h1.6v3.46h-1.6zM623.5 370.56h1.6v2.25h-1.6zM627.6 362.18h1.6v3.36h-1.6zM631.6 362.18h1.6v3.08h-1.6zM635.7 373.36h1.6v2.43h-1.6zM639.7 379.98h1.6v3.55h-1.6zM643.4 374.11h1.6v18.37h-1.6zM647.6 363.67h1.6v2.25h-1.6zM651.7 368.23h1.6v10.54h-1.6zM660 379.33h1.6v13.15h-1.6zM667.9 384.27h1.6v1.78h-1.6zM671.9 370.66h1.6v1.69h-1.6zM675.9 360.59h1.6v4.95h-1.6zM680 357.24h1.6v2.25h-1.6zM684.2 353.04h1.6v7.28h-1.6zM688.4 371.03h1.6v2.15h-1.6zM692.5 359.47h1.6v7.37h-1.6zM696.5 380.82h1.6v1.22h-1.6zM700.6 355.09h1.6v9.33h-1.6zM704.6 353.04h1.6v7.28h-1.6zM708.6 356.4h1.6v0.29h-1.6zM712.7 353.04h1.6v5.14h-1.6zM716.7 366.09h1.6v3.08h-1.6zM720.8 380.26h1.6v2.15h-1.6zM724.8 353.04h1.6v1.22h-1.6zM728.8 372.89h1.6v3.08h-1.6zM732.9 353.04h1.6v1.5h-1.6zM736.9 381.47h1.6v1.87h-1.6zM740.8 377.83h1.6v5.51h-1.6zM744.8 365.16h1.6v0.75h-1.6zM748.9 374.11h1.6v7.37h-1.6zM752.9 356.86h1.6v2.62h-1.6zM761 371.96h1.6v2.71h-1.6zM765.2 363.11h1.6v2.43h-1.6zM769.3 363.11h1.6v2.43h-1.6zM777.3 360.87h1.6v2.81h-1.6z" fill="#8c8c8c"/><path d="M114.3 435.98V430.69M130.4 436.73V433.48M142.4 443.44V440.57M146.5 445.3V413.91M150.5 422.19V415.31M154.6 445.3V440.94M158.7 432.62V427.15M162.7 440.27V436.75M170.8 412.68V408.79M183.2 425.54V419.5M195.4 443.44V440.01M199.4 401.5V398.81M211.5 426.85V387.63M215.5 431.13V425.28M219.6 418.37V414.1M223.6 440.64V430.97M227.6 413.8V407.95M235.7 416.87V412.51M239.7 421.44V417.64M247.8 426.85V408.51M251.8 428.34V422.86M259.9 419.11V414.1M264 430.29V423.23M268 414.26V407.95M272.1 388.54V384.74M276.1 405.04V398.81M280.2 385.47V382.04M284.2 423.68V417.64M288.4 411.19V394.62M292.3 405.41V402.26M296.3 404.11V394.25M300.4 408.11V398.81M304.4 405.69V370.85M308.4 397.77V391.92M312.5 395.44V387.35M316.5 399.26V393.13M324.6 390.87V387.63M332.6 401.96V396.2M336.7 395.07V390.71M340.7 390.41V384.55M344.8 390.87V365.17M348.9 410.82V388.1M357.2 378.2V373.56M365.3 387.33V378.96M369.3 399.26V390.43M373.4 387.33V360.97M381.5 383.23V375.05M385.5 367.48V360.51M393.5 396.18V379.99M401.6 385.47V382.41M409.6 404.11V394.25M413.7 382.76V354.82M417.6 401.96V390.24M421.8 374.75V371.69M425.9 383.23V373.84M430 399.26V391.92M434 377.08V373.56M438.2 381.18V371.97M442.1 393.95V387.07M446.1 376.33V373.18M450.2 386.21V360.97M454.2 359.56V352.49M458.2 396.93V392.2M466.5 383.69V378.96M470.5 375.03V370.48M474.4 377.08V371.69M478.6 367.85V364.33M482.5 375.49V371.69M486.5 387.33V383.53M490.7 369.44V353.98M494.6 406.16V401.14M498.6 402.33V396.86M502.7 409.23V399.56M506.9 371.39V359.02M514.8 399.26V392.66M519 388.82V382.22M523 388.82V382.22M527.1 377.08V372.81M531.3 378.57V357.99M543.4 375.96V360.97M547.4 392.36V383.99M555.5 396.93V392.2M559.5 369.44V354.82M563.5 363.28V355.94M567.6 391.62V386.51M575.6 396.18V392.2M579.7 360.95V353.33M583.7 385.19V378.87M591.8 377.54V355.94M595.9 402.33V377.84M599.9 391.62V386.51M604.1 386.21V374.3M608 356.39V352.49M612.2 373.54V370.76M616.1 355.18V352.49M620.3 377.54V370.48M624.3 372.51V368.62M628.4 365.24V359.86M632.4 364.96V358.27M636.5 375.49V371.23M640.5 383.23V375.51M644.2 392.18V356.31M648.4 365.61V360.79M652.5 378.48V357.43M660.8 392.18V366.19M668.7 385.75V382.04M672.7 372.04V369.18M676.7 365.24V354.92M680.8 359.18V355.2M689.2 372.88V369.18M693.3 366.55V353.33M697.3 381.74V379.15M701.4 364.12V352.49M709.4 356.39V355.2M717.5 368.88V362.65M721.6 382.11V376.63M729.6 375.68V368.71M737.7 383.04V379.71M741.6 383.04V372.9M745.6 365.61V363.68M749.7 381.18V365.91M753.7 359.18V354.92M761.8 374.37V369.64M766 365.24V360.79M770.1 365.24V360.79M778.1 363.38V358.18" stroke="#c8c8c8" stroke-width="0.9" fill="none"/><path d="M53.2 352.4H59.6V445.6H53.2" stroke="#222" stroke-width="1.2" fill="none"/><text x="48.9" y="447.2" font-size="7.3" text-anchor="middle" fill="#333">0</text><text x="48.9" y="354" font-size="7.3" text-anchor="middle" fill="#333">1</text><text transform="translate(34.6 398.5) rotate(-90)" font-size="9.6" text-anchor="middle" fill="#1a1a1a">1 <tspan font-style="italic">µ</tspan>g/mL survival</text><path d="M60.1 570.4H780.5M60.1 477.8H780.5" stroke="#e0e0e0" stroke-width="1.35" fill="none"/><path d="M80.35 569.2h2.7v1.2h-2.7zM100.75 567.07h2.7v3.33h-2.7zM104.85 564.38h2.7v6.02h-2.7zM112.95 551.88h2.7v18.52h-2.7zM121.15 541.42h2.7v28.98h-2.7zM125.05 554.84h2.7v15.56h-2.7zM129.05 549.47h2.7v20.93h-2.7zM133.05 568.64h2.7v1.76h-2.7zM137.15 545.68h2.7v24.72h-2.7zM141.15 554.66h2.7v15.74h-2.7zM145.15 554.66h2.7v15.74h-2.7zM149.25 528.36h2.7v42.04h-2.7zM153.25 541.05h2.7v29.35h-2.7zM157.35 527.9h2.7v42.5h-2.7zM161.35 520.77h2.7v49.63h-2.7zM165.35 516.6h2.7v53.8h-2.7zM169.45 533.73h2.7v36.67h-2.7zM173.45 529.47h2.7v40.93h-2.7zM177.55 526.41h2.7v43.99h-2.7zM181.85 529.47h2.7v40.93h-2.7zM185.85 514.19h2.7v56.21h-2.7zM189.95 534.47h2.7v35.93h-2.7zM194.05 568.64h2.7v1.76h-2.7zM198.05 539.1h2.7v31.3h-2.7zM202.25 523.36h2.7v47.04h-2.7zM206.15 514.38h2.7v56.02h-2.7zM210.15 529.47h2.7v40.93h-2.7zM214.15 512.62h2.7v57.78h-2.7zM218.25 512.62h2.7v57.78h-2.7zM222.25 500.49h2.7v69.91h-2.7zM226.25 508.45h2.7v61.95h-2.7zM230.25 526.88h2.7v43.52h-2.7zM234.35 537.53h2.7v32.87h-2.7zM238.35 505.86h2.7v64.54h-2.7zM242.45 511.51h2.7v58.89h-2.7zM246.45 517.62h2.7v52.78h-2.7zM250.45 477.89h2.7v92.51h-2.7zM254.35 490.86h2.7v79.54h-2.7zM258.55 497.8h2.7v72.6h-2.7zM262.65 500.12h2.7v70.28h-2.7zM266.65 515.67h2.7v54.73h-2.7zM270.75 520.77h2.7v49.63h-2.7zM274.75 515.67h2.7v54.73h-2.7zM278.85 519.19h2.7v51.21h-2.7zM282.85 496.23h2.7v74.17h-2.7zM287.05 503.91h2.7v66.49h-2.7zM290.95 517.62h2.7v52.78h-2.7zM294.95 503.17h2.7v67.23h-2.7zM299.05 502.89h2.7v67.51h-2.7zM303.05 492.06h2.7v78.34h-2.7zM307.05 513.54h2.7v56.86h-2.7zM311.15 508.45h2.7v61.95h-2.7zM315.15 505.12h2.7v65.28h-2.7zM319.25 515.67h2.7v54.73h-2.7zM323.25 502.34h2.7v68.06h-2.7zM327.35 504.65h2.7v65.75h-2.7zM331.25 498.82h2.7v71.58h-2.7zM335.35 503.45h2.7v66.95h-2.7zM339.35 500.49h2.7v69.91h-2.7zM343.45 485.95h2.7v84.45h-2.7zM347.55 489h2.7v81.4h-2.7zM351.55 511.51h2.7v58.89h-2.7zM355.85 495.76h2.7v74.64h-2.7zM359.85 480.49h2.7v89.91h-2.7zM363.95 486.6h2.7v83.8h-2.7zM367.95 491.32h2.7v79.08h-2.7zM372.05 499.28h2.7v71.12h-2.7zM376.05 508.45h2.7v61.95h-2.7zM380.15 490.58h2.7v79.82h-2.7zM384.15 479.37h2.7v91.03h-2.7zM388.15 508.45h2.7v61.95h-2.7zM392.15 501.32h2.7v69.08h-2.7zM396.25 504.65h2.7v65.75h-2.7zM400.25 508.45h2.7v61.95h-2.7zM404.25 518.36h2.7v52.04h-2.7zM408.25 477.89h2.7v92.51h-2.7zM412.35 486.6h2.7v83.8h-2.7zM416.25 508.45h2.7v61.95h-2.7zM420.45 495.21h2.7v75.19h-2.7zM424.55 501.6h2.7v68.8h-2.7zM428.65 481.69h2.7v88.71h-2.7zM432.65 481.69h2.7v88.71h-2.7zM436.85 492.71h2.7v77.69h-2.7zM440.75 515.67h2.7v54.73h-2.7zM444.75 482.43h2.7v87.97h-2.7zM448.85 477.89h2.7v92.51h-2.7zM452.85 483.17h2.7v87.23h-2.7zM456.85 505.39h2.7v65.01h-2.7zM460.95 501.88h2.7v68.52h-2.7zM465.15 481.69h2.7v88.71h-2.7zM469.15 495.21h2.7v75.19h-2.7zM473.05 493.63h2.7v76.77h-2.7zM477.25 500.86h2.7v69.54h-2.7zM481.15 502.34h2.7v68.06h-2.7zM485.15 508.45h2.7v61.95h-2.7zM489.35 486.23h2.7v84.17h-2.7zM493.25 477.89h2.7v92.51h-2.7zM497.25 500.12h2.7v70.28h-2.7zM501.35 503.17h2.7v67.23h-2.7zM505.55 477.89h2.7v92.51h-2.7zM509.55 489h2.7v81.4h-2.7zM513.45 504.38h2.7v66.02h-2.7zM517.65 498.54h2.7v71.86h-2.7zM521.65 495.21h2.7v75.19h-2.7zM525.75 497.8h2.7v72.6h-2.7zM529.95 487.8h2.7v82.6h-2.7zM534.15 480.49h2.7v89.91h-2.7zM538.15 483.17h2.7v87.23h-2.7zM542.05 486.6h2.7v83.8h-2.7zM546.05 499.75h2.7v70.65h-2.7zM550.25 482.43h2.7v87.97h-2.7zM554.15 506.51h2.7v63.89h-2.7zM558.15 479.37h2.7v91.03h-2.7zM562.15 505.86h2.7v64.54h-2.7zM566.25 492.34h2.7v78.06h-2.7zM570.25 520.77h2.7v49.63h-2.7zM574.25 497.8h2.7v72.6h-2.7zM578.35 480.95h2.7v89.45h-2.7zM582.35 489h2.7v81.4h-2.7zM586.45 485.95h2.7v84.45h-2.7zM590.45 495.21h2.7v75.19h-2.7zM594.55 477.89h2.7v92.51h-2.7zM598.55 492.71h2.7v77.69h-2.7zM602.75 498.17h2.7v72.23h-2.7zM606.65 482.06h2.7v88.34h-2.7zM610.85 507.43h2.7v62.97h-2.7zM614.75 477.89h2.7v92.51h-2.7zM618.95 477.89h2.7v92.51h-2.7zM622.95 492.71h2.7v77.69h-2.7zM627.05 477.89h2.7v92.51h-2.7zM631.05 477.89h2.7v92.51h-2.7zM635.15 500.49h2.7v69.91h-2.7zM639.15 477.89h2.7v92.51h-2.7zM642.85 477.99h2.7v92.41h-2.7zM647.05 483.17h2.7v87.23h-2.7zM651.15 477.99h2.7v92.41h-2.7zM655.15 477.99h2.7v92.41h-2.7zM659.45 504.1h2.7v66.3h-2.7zM663.45 487.52h2.7v82.88h-2.7zM667.35 498.73h2.7v71.67h-2.7zM671.35 501.51h2.7v68.89h-2.7zM675.35 484.93h2.7v85.47h-2.7zM679.45 477.99h2.7v92.41h-2.7zM683.65 495.39h2.7v75.01h-2.7zM687.85 488.63h2.7v81.77h-2.7zM691.95 484.56h2.7v85.84h-2.7zM695.95 494.56h2.7v75.84h-2.7zM700.05 517.53h2.7v52.87h-2.7zM704.05 480.21h2.7v90.19h-2.7zM708.05 506.51h2.7v63.89h-2.7zM712.15 487.15h2.7v83.25h-2.7zM716.15 497.25h2.7v73.15h-2.7zM720.25 489.93h2.7v80.47h-2.7zM724.25 494.56h2.7v75.84h-2.7zM728.25 499.47h2.7v70.93h-2.7zM732.35 505.58h2.7v64.82h-2.7zM736.35 492.34h2.7v78.06h-2.7zM740.25 477.99h2.7v92.41h-2.7zM744.25 488.08h2.7v82.32h-2.7zM748.35 513.27h2.7v57.13h-2.7zM752.35 477.99h2.7v92.41h-2.7zM756.35 487.15h2.7v83.25h-2.7zM760.45 479.47h2.7v90.93h-2.7zM764.65 487.52h2.7v82.88h-2.7zM768.75 481.32h2.7v89.08h-2.7zM772.75 477.99h2.7v92.41h-2.7zM776.75 485.67h2.7v84.73h-2.7z" fill="#000"/><path d="M80.9 569.75h1.6v0.65h-1.6zM101.3 567.62h1.6v0.93h-1.6zM105.4 564.93h1.6v3.25h-1.6zM113.5 552.43h1.6v1.95h-1.6zM121.7 541.97h1.6v1.21h-1.6zM125.6 555.39h1.6v3.15h-1.6zM129.6 550.02h1.6v2.04h-1.6zM133.6 569.19h1.6v0.47h-1.6zM137.7 546.23h1.6v5.84h-1.6zM141.7 555.21h1.6v2.97h-1.6zM149.8 528.91h1.6v1.76h-1.6zM153.8 541.6h1.6v1.58h-1.6zM161.9 521.32h1.6v6.3h-1.6zM165.9 517.15h1.6v2.78h-1.6zM170 534.28h1.6v5.56h-1.6zM174 530.02h1.6v8.25h-1.6zM178.1 526.96h1.6v32.32h-1.6zM182.4 530.02h1.6v3.34h-1.6zM186.4 514.74h1.6v3.71h-1.6zM190.5 535.02h1.6v3.62h-1.6zM194.6 569.19h1.6v1.21h-1.6zM198.6 539.65h1.6v0.56h-1.6zM202.8 523.91h1.6v3.43h-1.6zM206.7 514.93h1.6v11.49h-1.6zM210.7 530.02h1.6v3.99h-1.6zM214.7 513.17h1.6v3.71h-1.6zM218.8 513.17h1.6v17.23h-1.6zM222.8 501.04h1.6v5.93h-1.6zM226.8 509h1.6v1.76h-1.6zM234.9 538.08h1.6v3.34h-1.6zM243 512.06h1.6v8.25h-1.6zM251 478.44h1.6v11.21h-1.6zM259.1 498.35h1.6v8.15h-1.6zM263.2 500.67h1.6v6.77h-1.6zM267.2 516.22h1.6v2.97h-1.6zM271.3 521.32h1.6v2.04h-1.6zM275.3 516.22h1.6v2.97h-1.6zM279.4 519.74h1.6v3.25h-1.6zM283.4 496.78h1.6v10.65h-1.6zM287.6 504.46h1.6v7.04h-1.6zM291.5 518.17h1.6v1.76h-1.6zM295.5 503.72h1.6v2.78h-1.6zM299.6 503.44h1.6v5.01h-1.6zM303.6 492.61h1.6v1.67h-1.6zM307.6 514.09h1.6v2.04h-1.6zM311.7 509h1.6v3.62h-1.6zM315.7 505.67h1.6v2.32h-1.6zM323.8 502.89h1.6v2.51h-1.6zM327.9 505.2h1.6v3.99h-1.6zM331.8 499.37h1.6v2.97h-1.6zM335.9 504h1.6v2.51h-1.6zM339.9 501.04h1.6v6.39h-1.6zM344 486.5h1.6v12.78h-1.6zM348.1 489.55h1.6v6.67h-1.6zM352.1 512.06h1.6v3.25h-1.6zM356.4 496.31h1.6v2.97h-1.6zM360.4 481.04h1.6v2.23h-1.6zM364.5 487.15h1.6v10.19h-1.6zM368.5 491.87h1.6v2.78h-1.6zM372.6 499.83h1.6v4.08h-1.6zM376.6 509h1.6v15.56h-1.6zM380.7 491.13h1.6v3.52h-1.6zM384.7 479.92h1.6v1.76h-1.6zM392.7 501.87h1.6v2.04h-1.6zM396.8 505.2h1.6v5.56h-1.6zM400.8 509h1.6v1.76h-1.6zM412.9 487.15h1.6v7.51h-1.6zM416.8 509h1.6v3.62h-1.6zM425.1 502.15h1.6v1.76h-1.6zM429.2 482.24h1.6v3.34h-1.6zM433.2 482.24h1.6v1.67h-1.6zM437.4 493.26h1.6v5.28h-1.6zM441.3 516.22h1.6v13.25h-1.6zM445.3 482.98h1.6v3.34h-1.6zM449.4 478.44h1.6v3.99h-1.6zM453.4 483.72h1.6v3.34h-1.6zM461.5 502.43h1.6v2.97h-1.6zM465.7 482.24h1.6v2.14h-1.6zM473.6 494.18h1.6v2.88h-1.6zM477.8 501.41h1.6v2.04h-1.6zM481.7 502.89h1.6v2.51h-1.6zM485.7 509h1.6v3.62h-1.6zM489.9 486.78h1.6v2.51h-1.6zM493.8 478.44h1.6v3.25h-1.6zM497.8 500.67h1.6v1.67h-1.6zM501.9 503.72h1.6v2.78h-1.6zM514 504.93h1.6v1.58h-1.6zM518.2 499.09h1.6v3.25h-1.6zM522.2 495.76h1.6v2.04h-1.6zM526.3 498.35h1.6v2.51h-1.6zM534.7 481.04h1.6v2.14h-1.6zM538.7 483.72h1.6v1.77h-1.6zM542.6 487.15h1.6v9.91h-1.6zM550.8 482.98h1.6v1.76h-1.6zM554.7 507.06h1.6v1.86h-1.6zM558.7 479.92h1.6v2.97h-1.6zM562.7 506.41h1.6v11.95h-1.6zM566.8 492.89h1.6v4.08h-1.6zM574.8 498.35h1.6v1.76h-1.6zM578.9 481.5h1.6v4.73h-1.6zM582.9 489.55h1.6v6.67h-1.6zM591 495.76h1.6v8.9h-1.6zM599.1 493.26h1.6v2.97h-1.6zM603.3 498.72h1.6v2.88h-1.6zM607.2 482.61h1.6v2.14h-1.6zM611.4 507.98h1.6v1.21h-1.6zM615.3 478.44h1.6v2.88h-1.6zM619.5 478.44h1.6v1.67h-1.6zM623.5 493.26h1.6v1.95h-1.6zM627.6 478.44h1.6v3.99h-1.6zM631.6 478.44h1.6v3.99h-1.6zM635.7 501.04h1.6v3.89h-1.6zM639.7 478.44h1.6v2.51h-1.6zM643.4 478.54h1.6v2.23h-1.6zM647.6 483.72h1.6v4.36h-1.6zM651.7 478.54h1.6v2.23h-1.6zM660 504.65h1.6v7.32h-1.6zM667.9 499.28h1.6v2.6h-1.6zM671.9 502.06h1.6v3.15h-1.6zM675.9 485.48h1.6v1.67h-1.6zM680 478.54h1.6v1.3h-1.6zM684.2 495.94h1.6v4.08h-1.6zM688.4 489.18h1.6v2.6h-1.6zM692.5 485.11h1.6v5.75h-1.6zM696.5 495.11h1.6v1.21h-1.6zM700.6 518.08h1.6v10.47h-1.6zM708.6 507.06h1.6v1.21h-1.6zM712.7 487.7h1.6v3.15h-1.6zM716.7 497.8h1.6v3.15h-1.6zM720.8 490.48h1.6v1.86h-1.6zM724.8 495.11h1.6v1.58h-1.6zM728.8 500.02h1.6v1.86h-1.6zM732.9 506.13h1.6v1.58h-1.6zM736.9 492.89h1.6v2.51h-1.6zM740.8 478.54h1.6v3.15h-1.6zM744.8 488.63h1.6v1.86h-1.6zM752.9 478.54h1.6v1.67h-1.6zM761 480.02h1.6v1.67h-1.6zM765.2 488.07h1.6v2.78h-1.6zM769.3 481.87h1.6v1.95h-1.6zM773.3 478.54h1.6v2.23h-1.6zM777.3 486.22h1.6v2.78h-1.6z" fill="#8c8c8c"/><path d="M81.7 570.1V568.55M102.1 568.25V565.86M106.2 567.88V560.95M114.3 554.08V549.19M122.5 542.88V539.84M126.4 558.25V550.95M130.4 551.77V548.18M134.4 569.36V567.44M138.5 551.77V539.84M142.5 557.88V552.81M150.6 530.37V526.88M154.6 542.88V539.84M162.7 527.32V513.54M166.7 519.63V513.08M170.8 539.54V528.82M174.8 537.97V521.88M178.9 558.99V495.21M183.2 533.06V526.88M187.2 518.15V511.51M191.3 538.34V531.88M195.4 570.1V567.71M199.4 539.91V537.99M203.6 527.04V521.23M207.5 526.12V503.91M211.5 533.71V525.3M215.5 516.58V509.56M219.6 530.1V495.76M223.6 506.67V495.76M227.6 510.47V507.43M235.7 541.12V534.47M243.8 520V503.08M259.9 506.21V490.58M264 507.13V493.91M268 518.89V512.62M272.1 523.06V519.19M276.1 518.89V513.54M280.2 522.69V516.88M284.2 507.13V486.32M288.4 511.21V497.8M292.3 519.63V516.14M296.3 506.21V500.86M300.4 508.15V498.54M304.4 493.98V491.13M308.4 515.84V511.97M312.5 512.32V505.39M316.5 507.69V503.91M324.6 505.09V500.86M328.7 508.89V501.88M332.6 502.04V496.69M336.7 506.21V501.88M340.7 507.13V495.21M344.8 498.98V477.89M348.9 495.93V482.89M352.9 515V509.19M357.2 498.98V493.17M361.2 482.96V479.37M365.3 497.04V478.73M369.3 494.35V489M373.4 503.61V496.69M377.4 524.26V493.17M381.5 494.35V487.06M385.5 481.39V478.26M393.5 503.61V500.02M397.6 510.47V499.75M401.6 510.47V507.71M413.7 494.35V479.84M417.6 512.32V505.39M425.9 503.61V500.86M430 485.28V478.36M434 483.61V480.12M438.2 498.24V488.54M442.1 529.17V501.88M446.1 486.02V480.12M454.2 486.76V480.86M462.3 505.09V500.02M466.5 484.07V480.12M474.4 496.76V491.69M478.6 503.15V500.02M482.5 505.09V500.86M486.5 512.32V506.14M490.7 488.98V484.37M498.6 502.04V499.28M502.7 506.21V501.32M514.8 506.21V503.17M519 502.04V496.23M523 497.5V493.91M527.1 500.56V496.23M535.5 482.87V478.91M539.5 485.19V481.32M543.4 496.76V477.89M551.6 484.44V480.86M555.5 508.61V505.39M559.5 482.59V478.26M563.5 518.06V493.91M567.6 496.67V487.8M575.6 499.82V496.97M579.7 485.93V478.26M583.7 495.93V482.89M591.8 504.35V486.32M599.9 495.93V490.02M604.1 501.3V495.12M608 484.44V480.86M612.2 508.89V506.51M624.3 494.91V491.69M636.5 504.63V497.06M648.4 487.78V479M660.8 511.67V497.25M668.7 501.58V495.95M672.7 504.91V500.02M676.7 486.85V483.54M685 499.72V491.69M689.2 491.48V485.67M693.3 490.56V478.54M697.3 496.02V493.63M701.4 528.24V506.97M709.4 507.97V505.58M713.5 490.56V485.67M717.5 500.65V494.1M721.6 492.04V488.63M725.6 496.39V493.63M729.6 501.58V498.17M733.7 507.41V504.65M737.7 495.09V490.86M745.6 490.19V487.15M761.8 481.39V477.89M766 490.56V485.67M770.1 483.52V479.84M778.1 488.7V483.82" stroke="#c8c8c8" stroke-width="0.9" fill="none"/><path d="M53.2 477.8H59.6V570.4H53.2" stroke="#222" stroke-width="1.2" fill="none"/><text x="48.9" y="572" font-size="7.3" text-anchor="middle" fill="#333">0</text><text x="48.9" y="479.4" font-size="7.3" text-anchor="middle" fill="#333">1</text><text transform="translate(34.6 523.5) rotate(-90)" font-size="9.6" text-anchor="middle" fill="#1a1a1a">0.5 <tspan font-style="italic">µ</tspan>g/mL survival</text><path d="M62.5 695.4H780.5M62.5 602.8H780.5" stroke="#e0e0e0" stroke-width="1.35" fill="none"/><path d="M72.25 667.9h2.7v27.5h-2.7zM76.45 684.75h2.7v10.65h-2.7zM80.35 692.07h2.7v3.33h-2.7zM84.35 688.92h2.7v6.48h-2.7zM92.65 684.75h2.7v10.65h-2.7zM96.75 658.73h2.7v36.67h-2.7zM100.75 651.04h2.7v44.36h-2.7zM104.85 645.77h2.7v49.63h-2.7zM108.85 633.45h2.7v61.95h-2.7zM112.95 645.77h2.7v49.63h-2.7zM116.95 617.71h2.7v77.69h-2.7zM121.15 640.67h2.7v54.73h-2.7zM125.05 633.45h2.7v61.95h-2.7zM129.05 633.45h2.7v61.95h-2.7zM133.15 612.52h2.7v82.88h-2.7zM137.15 620.76h2.7v74.64h-2.7zM141.35 612.52h2.7v82.88h-2.7zM145.25 628.91h2.7v66.49h-2.7zM149.25 635.49h2.7v59.91h-2.7zM153.25 611.6h2.7v83.8h-2.7zM157.35 626.32h2.7v69.08h-2.7zM161.35 625.39h2.7v70.01h-2.7zM165.35 625.39h2.7v70.01h-2.7zM169.45 630.39h2.7v65.01h-2.7zM173.45 624.75h2.7v70.65h-2.7zM177.55 614.28h2.7v81.12h-2.7zM181.85 625.86h2.7v69.54h-2.7zM185.85 633.45h2.7v61.95h-2.7zM189.95 602.89h2.7v92.51h-2.7zM194.05 607.43h2.7v87.97h-2.7zM198.05 625.86h2.7v69.54h-2.7zM202.25 602.89h2.7v92.51h-2.7zM206.15 617.06h2.7v78.34h-2.7zM210.15 654.47h2.7v40.93h-2.7zM214.15 607.89h2.7v87.51h-2.7zM218.25 638.54h2.7v56.86h-2.7zM222.25 602.89h2.7v92.51h-2.7zM226.25 629.65h2.7v65.75h-2.7zM230.25 614.65h2.7v80.75h-2.7zM234.35 621.97h2.7v73.43h-2.7zM238.35 614h2.7v81.4h-2.7zM242.45 602.89h2.7v92.51h-2.7zM246.45 603.91h2.7v91.49h-2.7zM250.45 623.91h2.7v71.49h-2.7zM254.35 602.89h2.7v92.51h-2.7zM258.55 602.89h2.7v92.51h-2.7zM262.65 610.02h2.7v85.38h-2.7zM266.65 623.08h2.7v72.32h-2.7zM270.75 602.89h2.7v92.51h-2.7zM274.75 607.89h2.7v87.51h-2.7zM278.85 612.06h2.7v83.34h-2.7zM282.85 602.89h2.7v92.51h-2.7zM287.05 604.37h2.7v91.03h-2.7zM290.95 635.49h2.7v59.91h-2.7zM294.95 628.17h2.7v67.23h-2.7zM299.05 627.89h2.7v67.51h-2.7zM303.05 612.52h2.7v82.88h-2.7zM307.05 631.88h2.7v63.52h-2.7zM311.15 612.52h2.7v82.88h-2.7zM315.15 608.54h2.7v86.86h-2.7zM319.25 618.63h2.7v76.77h-2.7zM323.25 625.39h2.7v70.01h-2.7zM327.35 626.32h2.7v69.08h-2.7zM331.25 620.39h2.7v75.01h-2.7zM335.35 621.23h2.7v74.17h-2.7zM339.35 616.6h2.7v78.8h-2.7zM343.45 613.54h2.7v81.86h-2.7zM347.55 637.62h2.7v57.78h-2.7zM351.55 602.89h2.7v92.51h-2.7zM355.85 602.89h2.7v92.51h-2.7zM359.85 620.39h2.7v75.01h-2.7zM363.95 605.95h2.7v89.45h-2.7zM367.95 621.97h2.7v73.43h-2.7zM372.05 631.51h2.7v63.89h-2.7zM376.05 611.6h2.7v83.8h-2.7zM380.15 602.89h2.7v92.51h-2.7zM384.15 602.89h2.7v92.51h-2.7zM388.15 623.08h2.7v72.32h-2.7zM392.15 602.89h2.7v92.51h-2.7zM396.25 624.75h2.7v70.65h-2.7zM400.25 602.89h2.7v92.51h-2.7zM404.25 602.89h2.7v92.51h-2.7zM408.25 602.89h2.7v92.51h-2.7zM412.35 602.89h2.7v92.51h-2.7zM416.25 602.89h2.7v92.51h-2.7zM420.45 636.97h2.7v58.43h-2.7zM424.55 624.75h2.7v70.65h-2.7zM428.65 602.89h2.7v92.51h-2.7zM432.65 602.89h2.7v92.51h-2.7zM436.85 612.52h2.7v82.88h-2.7zM440.75 626.6h2.7v68.8h-2.7zM444.75 602.89h2.7v92.51h-2.7zM448.85 602.89h2.7v92.51h-2.7zM452.85 637.62h2.7v57.78h-2.7zM456.85 625.86h2.7v69.54h-2.7zM460.95 624.28h2.7v71.12h-2.7zM465.15 624.75h2.7v70.65h-2.7zM469.15 617.34h2.7v78.06h-2.7zM473.05 618.63h2.7v76.77h-2.7zM477.25 602.89h2.7v92.51h-2.7zM481.15 602.89h2.7v92.51h-2.7zM485.15 626.88h2.7v68.52h-2.7zM489.35 615.58h2.7v79.82h-2.7zM493.25 616.6h2.7v78.8h-2.7zM497.25 612.8h2.7v82.6h-2.7zM501.35 617.71h2.7v77.69h-2.7zM505.55 614.65h2.7v80.75h-2.7zM509.55 602.89h2.7v92.51h-2.7zM513.45 621.23h2.7v74.17h-2.7zM517.65 605.49h2.7v89.91h-2.7zM521.65 620.21h2.7v75.19h-2.7zM525.75 626.88h2.7v68.52h-2.7zM529.95 607.43h2.7v87.97h-2.7zM534.15 613.54h2.7v81.86h-2.7zM538.15 610.95h2.7v84.45h-2.7zM542.05 602.89h2.7v92.51h-2.7zM546.05 615.86h2.7v79.54h-2.7zM550.25 604.84h2.7v90.56h-2.7zM554.15 614.65h2.7v80.75h-2.7zM558.15 602.89h2.7v92.51h-2.7zM562.15 602.89h2.7v92.51h-2.7zM566.25 602.89h2.7v92.51h-2.7zM570.25 621.23h2.7v74.17h-2.7zM574.25 608.54h2.7v86.86h-2.7zM578.35 602.89h2.7v92.51h-2.7zM582.35 608.54h2.7v86.86h-2.7zM586.45 602.89h2.7v92.51h-2.7zM590.45 605.95h2.7v89.45h-2.7zM594.55 614.65h2.7v80.75h-2.7zM598.55 608.54h2.7v86.86h-2.7zM602.75 633.45h2.7v61.95h-2.7zM606.65 611.6h2.7v83.8h-2.7zM610.85 602.89h2.7v92.51h-2.7zM614.75 602.89h2.7v92.51h-2.7zM618.95 624.28h2.7v71.12h-2.7zM622.95 602.89h2.7v92.51h-2.7zM627.05 602.89h2.7v92.51h-2.7zM631.05 611.23h2.7v84.17h-2.7zM635.15 602.89h2.7v92.51h-2.7zM639.15 614.65h2.7v80.75h-2.7zM642.85 616.04h2.7v79.36h-2.7zM647.05 629.65h2.7v65.75h-2.7zM651.15 621.32h2.7v74.08h-2.7zM655.15 602.89h2.7v92.51h-2.7zM659.45 629.1h2.7v66.3h-2.7zM663.45 607.62h2.7v87.78h-2.7zM667.35 611.23h2.7v84.17h-2.7zM671.35 605.76h2.7v89.64h-2.7zM675.35 619.19h2.7v76.21h-2.7zM679.45 604.84h2.7v90.56h-2.7zM683.65 631.51h2.7v63.89h-2.7zM687.85 608.17h2.7v87.23h-2.7zM691.95 602.99h2.7v92.41h-2.7zM695.95 617.71h2.7v77.69h-2.7zM700.05 621.32h2.7v74.08h-2.7zM704.05 605.39h2.7v90.01h-2.7zM708.05 611.23h2.7v84.17h-2.7zM712.15 607.62h2.7v87.78h-2.7zM716.15 602.99h2.7v92.41h-2.7zM720.25 613.08h2.7v82.32h-2.7zM724.25 619.56h2.7v75.84h-2.7zM728.25 602.99h2.7v92.41h-2.7zM732.35 604.47h2.7v90.93h-2.7zM736.35 617.71h2.7v77.69h-2.7zM740.25 614.93h2.7v80.47h-2.7zM744.25 620.95h2.7v74.45h-2.7zM748.35 602.99h2.7v92.41h-2.7zM752.35 604.84h2.7v90.56h-2.7zM756.35 602.89h2.7v92.51h-2.7zM760.45 615.3h2.7v80.1h-2.7zM764.65 602.99h2.7v92.41h-2.7zM768.75 604.84h2.7v90.56h-2.7zM772.75 623.17h2.7v72.23h-2.7zM776.75 610.67h2.7v84.73h-2.7z" fill="#000"/><path d="M72.8 668.45h1.6v9.45h-1.6zM77 685.3h1.6v6.4h-1.6zM80.9 692.62h1.6v0.93h-1.6zM84.9 689.47h1.6v3.15h-1.6zM93.2 685.3h1.6v4.08h-1.6zM97.3 659.28h1.6v4.82h-1.6zM101.3 651.59h1.6v2.88h-1.6zM105.4 646.32h1.6v3.25h-1.6zM113.5 646.32h1.6v3.25h-1.6zM121.7 641.22h1.6v2.97h-1.6zM125.6 634h1.6v4.08h-1.6zM129.6 634h1.6v2.97h-1.6zM133.7 613.07h1.6v4.08h-1.6zM137.7 621.31h1.6v3.43h-1.6zM141.9 613.07h1.6v2.78h-1.6zM145.8 629.46h1.6v2.51h-1.6zM149.8 636.04h1.6v5.84h-1.6zM153.8 612.15h1.6v0.65h-1.6zM157.9 626.87h1.6v2.78h-1.6zM161.9 625.94h1.6v3.99h-1.6zM165.9 625.94h1.6v7.04h-1.6zM170 630.94h1.6v3.25h-1.6zM174 625.3h1.6v5.1h-1.6zM178.1 614.83h1.6v5.56h-1.6zM182.4 626.41h1.6v3.25h-1.6zM186.4 634h1.6v10.93h-1.6zM190.5 603.44h1.6v1.39h-1.6zM194.6 607.98h1.6v3.34h-1.6zM198.6 626.41h1.6v1.76h-1.6zM202.8 603.44h1.6v9.36h-1.6zM206.7 617.61h1.6v3.62h-1.6zM210.7 655.02h1.6v1.49h-1.6zM214.7 608.44h1.6v2.88h-1.6zM222.8 603.44h1.6v2.51h-1.6zM226.8 630.2h1.6v1.67h-1.6zM230.8 615.2h1.6v6.02h-1.6zM234.9 622.52h1.6v3.34h-1.6zM238.9 614.55h1.6v2.78h-1.6zM243 603.44h1.6v3.99h-1.6zM247 604.46h1.6v5.01h-1.6zM251 624.46h1.6v1.86h-1.6zM259.1 603.44h1.6v0.93h-1.6zM263.2 610.57h1.6v6.02h-1.6zM267.2 623.63h1.6v5.75h-1.6zM271.3 603.44h1.6v0.93h-1.6zM283.4 603.44h1.6v10.84h-1.6zM287.6 604.92h1.6v7.88h-1.6zM291.5 636.04h1.6v2.51h-1.6zM295.5 628.72h1.6v4.73h-1.6zM303.6 613.07h1.6v5.84h-1.6zM307.6 632.43h1.6v9.73h-1.6zM311.7 613.07h1.6v2.51h-1.6zM323.8 625.94h1.6v3.43h-1.6zM327.9 626.87h1.6v7.04h-1.6zM331.8 620.94h1.6v4.08h-1.6zM335.9 621.78h1.6v2.51h-1.6zM339.9 617.15h1.6v3.25h-1.6zM344 614.09h1.6v14.73h-1.6zM348.1 638.17h1.6v13.25h-1.6zM352.1 603.44h1.6v12.14h-1.6zM356.4 603.44h1.6v0.93h-1.6zM360.4 620.94h1.6v1.76h-1.6zM364.5 606.5h1.6v10.1h-1.6zM368.5 622.52h1.6v2.51h-1.6zM376.6 612.15h1.6v5.56h-1.6zM380.7 603.44h1.6v2.97h-1.6zM384.7 603.44h1.6v2.51h-1.6zM392.7 603.44h1.6v6.02h-1.6zM396.8 625.3h1.6v4.64h-1.6zM400.8 603.44h1.6v0.93h-1.6zM412.9 603.44h1.6v1.67h-1.6zM421 637.52h1.6v6.67h-1.6zM425.1 625.3h1.6v9.27h-1.6zM429.2 603.44h1.6v6.02h-1.6zM433.2 603.44h1.6v2.97h-1.6zM437.4 613.07h1.6v5.84h-1.6zM441.3 627.15h1.6v3.25h-1.6zM449.4 603.44h1.6v3.99h-1.6zM453.4 638.17h1.6v9.82h-1.6zM465.7 625.3h1.6v2.04h-1.6zM469.7 617.89h1.6v1.02h-1.6zM473.6 619.18h1.6v3.52h-1.6zM477.8 603.44h1.6v1.39h-1.6zM481.7 603.44h1.6v2.97h-1.6zM485.7 627.43h1.6v3.71h-1.6zM493.8 617.15h1.6v3.06h-1.6zM497.8 613.35h1.6v2.23h-1.6zM506.1 615.2h1.6v2.97h-1.6zM514 621.78h1.6v3.62h-1.6zM522.2 620.76h1.6v1.95h-1.6zM526.3 627.43h1.6v4.08h-1.6zM530.5 607.98h1.6v2.97h-1.6zM534.7 614.09h1.6v12.23h-1.6zM538.7 611.5h1.6v4.36h-1.6zM542.6 603.44h1.6v7.04h-1.6zM546.6 616.41h1.6v4.82h-1.6zM550.8 605.39h1.6v2.78h-1.6zM554.7 615.2h1.6v1.39h-1.6zM558.7 603.44h1.6v6.3h-1.6zM562.7 603.44h1.6v11.67h-1.6zM574.8 609.09h1.6v3.43h-1.6zM578.9 603.44h1.6v3.62h-1.6zM582.9 609.09h1.6v2.97h-1.6zM587 603.44h1.6v24.64h-1.6zM591 606.5h1.6v7.78h-1.6zM595.1 615.2h1.6v6.02h-1.6zM599.1 609.09h1.6v2.51h-1.6zM607.2 612.15h1.6v2.14h-1.6zM611.4 603.44h1.6v2.51h-1.6zM615.3 603.44h1.6v2.51h-1.6zM619.5 624.83h1.6v3.25h-1.6zM631.6 611.78h1.6v3.34h-1.6zM635.7 603.44h1.6v1.67h-1.6zM643.4 616.59h1.6v3.8h-1.6zM647.6 630.2h1.6v12.32h-1.6zM651.7 621.87h1.6v1.3h-1.6zM660 629.65h1.6v12.88h-1.6zM667.9 611.78h1.6v5.93h-1.6zM671.9 606.31h1.6v1.86h-1.6zM675.9 619.74h1.6v1.21h-1.6zM680 605.39h1.6v14.17h-1.6zM684.2 632.06h1.6v8.71h-1.6zM688.4 608.72h1.6v2.51h-1.6zM692.5 603.54h1.6v2.78h-1.6zM696.5 618.26h1.6v2.69h-1.6zM700.6 621.87h1.6v2.23h-1.6zM708.6 611.78h1.6v3.15h-1.6zM712.7 608.17h1.6v5.47h-1.6zM716.7 603.54h1.6v2.78h-1.6zM720.8 613.63h1.6v2.23h-1.6zM724.8 620.11h1.6v1.58h-1.6zM728.8 603.54h1.6v2.23h-1.6zM736.9 618.26h1.6v2.14h-1.6zM740.8 615.48h1.6v13.25h-1.6zM744.8 621.5h1.6v19.17h-1.6zM748.9 603.54h1.6v3.15h-1.6zM752.9 605.39h1.6v4.54h-1.6zM761 615.85h1.6v1.86h-1.6zM765.2 603.54h1.6v3.52h-1.6zM769.3 605.39h1.6v1.3h-1.6zM773.3 623.72h1.6v16.95h-1.6zM777.3 611.22h1.6v5.56h-1.6z" fill="#8c8c8c"/><path d="M73.6 677.6V658.73M77.8 691.4V678.73M81.7 693.25V691.14M85.7 692.32V686.14M94 689.08V680.95M98.1 663.8V653.82M102.1 654.17V648.82M106.2 649.26V642.71M114.3 649.26V642.71M122.5 643.89V638.08M126.4 637.78V629.65M130.4 636.67V630.39M134.5 616.85V609M138.5 624.45V618.17M142.7 615.56V610.58M146.6 631.67V627.34M150.6 641.58V629.65M154.6 612.5V610.58M158.7 629.35V623.54M162.7 629.63V622.8M166.7 632.69V619.75M170.8 633.89V627.34M174.8 630.09V619.75M178.9 620.09V609M183.2 629.35V623.17M187.2 644.63V622.71M195.4 611.02V605.12M199.4 627.87V624.75M207.5 620.93V614M211.5 656.21V652.9M215.5 611.02V605.95M227.6 631.58V628.08M231.6 620.93V609M235.7 625.56V618.91M239.7 617.04V612.8M247.8 609.17V602.89M251.8 626.02V622.43M264 616.3V603.73M268 629.08V617.34M288.4 612.5V602.89M292.3 638.24V632.99M296.3 633.15V623.82M304.4 618.61V607.06M308.4 641.86V622.71M312.5 615.28V610.95M324.6 629.08V622.8M328.7 633.61V620.12M332.6 624.72V617.71M336.7 623.98V620.21M340.7 620.09V614.65M344.8 628.52V602.89M348.9 651.12V624.28M361.2 622.41V618.91M365.3 616.3V602.89M369.3 624.72V619.75M377.4 617.41V606.41M397.6 629.63V619.75M421.8 643.89V629.93M425.9 634.26V615.86M438.2 618.61V607.06M442.1 630.09V623.17M454.2 647.69V627.8M466.5 627.04V623.17M470.5 618.61V616.6M474.4 622.41V615.58M486.5 630.84V624.28M494.6 619.91V614M498.6 615.28V612.06M506.9 617.87V612.52M514.8 625.09V618.17M523 622.41V618.91M527.1 631.21V623.82M531.3 610.65V604.84M535.5 626.02V603.26M539.5 615.56V607.43M547.4 620.93V610.95M551.6 607.87V603.91M555.5 616.3V613.54M575.6 612.22V605.95M583.7 611.76V605.95M591.8 613.98V602.89M595.9 620.93V608.17M599.9 611.3V606.41M608 613.98V610.12M620.3 627.78V621.23M632.4 614.82V608.54M644.2 620.09V613.45M648.4 642.23V617.34M652.5 622.87V619.84M660.8 642.23V615.67M668.7 617.41V605.76M672.7 607.87V604.84M676.7 620.65V618.08M680.8 619.26V602.89M685 640.47V622.25M689.2 610.93V604.84M697.3 620.65V615.49M701.4 623.8V620.39M709.4 614.63V609.37M713.5 613.33V602.99M721.6 615.56V611.78M725.6 621.39V618.63M737.7 620.09V615.86M741.6 628.43V602.99M745.6 640.37V602.99M753.7 609.63V603.91M761.8 617.41V614.19M770.1 606.39V603.91M774.1 640.37V606.32M778.1 616.48V605.58" stroke="#c8c8c8" stroke-width="0.9" fill="none"/><path d="M55.6 602.8H62V695.4H55.6" stroke="#222" stroke-width="1.2" fill="none"/><text x="51.3" y="697" font-size="7.3" text-anchor="middle" fill="#333">0</text><text x="51.3" y="604.4" font-size="7.3" text-anchor="middle" fill="#333">1</text><text transform="translate(34.8 649.1) rotate(-90)" font-size="9.6" text-anchor="middle" fill="#1a1a1a">0.25 <tspan font-style="italic">µ</tspan>g/mL survival</text><text x="419" y="724" font-size="9.5" text-anchor="middle" fill="#1a1a1a">DGRP line</text><text transform="translate(56.6 776.9)" font-size="9.55" text-anchor="end" font-style="italic" fill="#1a1a1a">Cyp6g1</text><path d="M94.82 767v14.7M98.87 767v14.7M102.92 767v14.7M106.96 767v14.7M111.01 767v14.7M115.06 767v14.7M119.1 767v14.7M123.15 767v14.7M127.2 767v14.7M131.24 767v14.7M135.29 767v14.7M139.34 767v14.7M143.38 767v14.7M147.43 767v14.7M151.48 767v14.7M155.52 767v14.7M159.57 767v14.7M163.62 767v14.7M167.66 767v14.7M171.71 767v14.7M175.75 767v14.7M179.8 767v14.7M183.85 767v14.7M187.89 767v14.7M191.94 767v14.7M195.99 767v14.7M200.03 767v14.7M204.08 767v14.7M208.13 767v14.7M212.17 767v14.7M216.22 767v14.7M224.31 767v14.7M228.36 767v14.7M232.41 767v14.7M236.45 767v14.7M240.5 767v14.7M244.55 767v14.7M248.59 767v14.7M252.64 767v14.7M256.69 767v14.7M260.73 767v14.7M264.78 767v14.7M268.83 767v14.7M272.87 767v14.7M276.92 767v14.7M280.97 767v14.7M285.01 767v14.7M289.06 767v14.7M293.11 767v14.7M297.15 767v14.7M301.2 767v14.7M305.25 767v14.7M309.29 767v14.7M313.34 767v14.7M317.39 767v14.7M321.43 767v14.7M325.48 767v14.7M329.53 767v14.7M333.57 767v14.7M337.62 767v14.7M341.67 767v14.7M345.71 767v14.7M349.76 767v14.7M353.81 767v14.7M357.85 767v14.7M361.9 767v14.7M365.94 767v14.7M369.99 767v14.7M374.04 767v14.7M378.08 767v14.7M382.13 767v14.7M386.18 767v14.7M390.22 767v14.7M394.27 767v14.7M398.32 767v14.7M402.36 767v14.7M406.41 767v14.7M410.46 767v14.7M414.5 767v14.7M418.55 767v14.7M422.6 767v14.7M426.64 767v14.7M430.69 767v14.7M434.74 767v14.7M438.78 767v14.7M442.83 767v14.7M446.88 767v14.7M450.92 767v14.7M454.97 767v14.7M459.02 767v14.7M463.06 767v14.7M467.11 767v14.7M471.16 767v14.7M475.2 767v14.7M479.25 767v14.7M483.3 767v14.7M487.34 767v14.7M491.39 767v14.7M495.44 767v14.7M499.48 767v14.7M503.53 767v14.7M507.58 767v14.7M511.62 767v14.7M515.67 767v14.7M519.72 767v14.7M523.76 767v14.7M527.81 767v14.7M531.86 767v14.7M535.9 767v14.7M539.95 767v14.7M544 767v14.7M548.04 767v14.7M552.09 767v14.7M556.14 767v14.7M560.18 767v14.7M564.23 767v14.7M568.27 767v14.7M572.32 767v14.7M576.37 767v14.7M580.41 767v14.7M584.46 767v14.7M588.51 767v14.7M592.55 767v14.7M596.6 767v14.7M600.65 767v14.7M604.69 767v14.7M608.74 767v14.7M612.79 767v14.7M616.83 767v14.7M620.88 767v14.7M624.93 767v14.7M628.97 767v14.7M633.02 767v14.7M637.07 767v14.7M641.11 767v14.7M645.16 767v14.7M649.21 767v14.7M653.25 767v14.7M657.3 767v14.7M661.35 767v14.7M665.39 767v14.7M669.44 767v14.7M673.49 767v14.7M677.53 767v14.7M681.58 767v14.7M685.63 767v14.7M689.67 767v14.7M693.72 767v14.7M697.77 767v14.7M701.81 767v14.7M705.86 767v14.7M709.91 767v14.7M713.95 767v14.7M718 767v14.7M722.05 767v14.7M726.09 767v14.7M730.14 767v14.7M734.19 767v14.7M738.23 767v14.7M742.28 767v14.7M746.33 767v14.7M750.37 767v14.7M754.42 767v14.7M758.47 767v14.7M762.51 767v14.7M766.56 767v14.7M770.61 767v14.7M774.65 767v14.7M778.7 767v14.7" stroke="#878787" stroke-width="2.7" fill="none"/><path d="M62.45 767v14.7M66.5 767v14.7M70.54 767v14.7M74.59 767v14.7M78.64 767v14.7M82.68 767v14.7M86.73 767v14.7M90.78 767v14.7M220.27 767v14.7" stroke="#000" stroke-width="2.7" fill="none"/><text transform="translate(56.6 803.7)" font-size="9.55" text-anchor="end" fill="#1a1a1a">3L:12936507</text><path d="M62.45 793.8v14.7M66.5 793.8v14.7M70.54 793.8v14.7M74.59 793.8v14.7M78.64 793.8v14.7M82.68 793.8v14.7M86.73 793.8v14.7M90.78 793.8v14.7M94.82 793.8v14.7M98.87 793.8v14.7M102.92 793.8v14.7M106.96 793.8v14.7M111.01 793.8v14.7M115.06 793.8v14.7M119.1 793.8v14.7M123.15 793.8v14.7M127.2 793.8v14.7M131.24 793.8v14.7M135.29 793.8v14.7M139.34 793.8v14.7M143.38 793.8v14.7M147.43 793.8v14.7M151.48 793.8v14.7M155.52 793.8v14.7M159.57 793.8v14.7M163.62 793.8v14.7M167.66 793.8v14.7M171.71 793.8v14.7M175.75 793.8v14.7M179.8 793.8v14.7M183.85 793.8v14.7M187.89 793.8v14.7M195.99 793.8v14.7M200.03 793.8v14.7M204.08 793.8v14.7M208.13 793.8v14.7M212.17 793.8v14.7M216.22 793.8v14.7M220.27 793.8v14.7M224.31 793.8v14.7M228.36 793.8v14.7M232.41 793.8v14.7M236.45 793.8v14.7M240.5 793.8v14.7M244.55 793.8v14.7M248.59 793.8v14.7M252.64 793.8v14.7M256.69 793.8v14.7M260.73 793.8v14.7M264.78 793.8v14.7M268.83 793.8v14.7M272.87 793.8v14.7M276.92 793.8v14.7M280.97 793.8v14.7M285.01 793.8v14.7M289.06 793.8v14.7M293.11 793.8v14.7M297.15 793.8v14.7M301.2 793.8v14.7M305.25 793.8v14.7M309.29 793.8v14.7M313.34 793.8v14.7M317.39 793.8v14.7M321.43 793.8v14.7M325.48 793.8v14.7M329.53 793.8v14.7M333.57 793.8v14.7M337.62 793.8v14.7M341.67 793.8v14.7M345.71 793.8v14.7M349.76 793.8v14.7M353.81 793.8v14.7M357.85 793.8v14.7M361.9 793.8v14.7M365.94 793.8v14.7M369.99 793.8v14.7M374.04 793.8v14.7M378.08 793.8v14.7M382.13 793.8v14.7M386.18 793.8v14.7M390.22 793.8v14.7M394.27 793.8v14.7M398.32 793.8v14.7M402.36 793.8v14.7M406.41 793.8v14.7M410.46 793.8v14.7M414.5 793.8v14.7M418.55 793.8v14.7M422.6 793.8v14.7M426.64 793.8v14.7M430.69 793.8v14.7M434.74 793.8v14.7M438.78 793.8v14.7M442.83 793.8v14.7M446.88 793.8v14.7M450.92 793.8v14.7M454.97 793.8v14.7M459.02 793.8v14.7M463.06 793.8v14.7M467.11 793.8v14.7M471.16 793.8v14.7M475.2 793.8v14.7M479.25 793.8v14.7M483.3 793.8v14.7M487.34 793.8v14.7M491.39 793.8v14.7M495.44 793.8v14.7M499.48 793.8v14.7M503.53 793.8v14.7M507.58 793.8v14.7M511.62 793.8v14.7M515.67 793.8v14.7M523.76 793.8v14.7M527.81 793.8v14.7M531.86 793.8v14.7M535.9 793.8v14.7M539.95 793.8v14.7M544 793.8v14.7M548.04 793.8v14.7M552.09 793.8v14.7M556.14 793.8v14.7M560.18 793.8v14.7M564.23 793.8v14.7M568.27 793.8v14.7M572.32 793.8v14.7M576.37 793.8v14.7M580.41 793.8v14.7M584.46 793.8v14.7M588.51 793.8v14.7M592.55 793.8v14.7M596.6 793.8v14.7M600.65 793.8v14.7M608.74 793.8v14.7M612.79 793.8v14.7M616.83 793.8v14.7M620.88 793.8v14.7M624.93 793.8v14.7M628.97 793.8v14.7M633.02 793.8v14.7M637.07 793.8v14.7M641.11 793.8v14.7M645.16 793.8v14.7M649.21 793.8v14.7M657.3 793.8v14.7M661.35 793.8v14.7M665.39 793.8v14.7M669.44 793.8v14.7M673.49 793.8v14.7M677.53 793.8v14.7M681.58 793.8v14.7M685.63 793.8v14.7M689.67 793.8v14.7M693.72 793.8v14.7M697.77 793.8v14.7M701.81 793.8v14.7M705.86 793.8v14.7M709.91 793.8v14.7M713.95 793.8v14.7M718 793.8v14.7M722.05 793.8v14.7M726.09 793.8v14.7M734.19 793.8v14.7M738.23 793.8v14.7M742.28 793.8v14.7M746.33 793.8v14.7M750.37 793.8v14.7M754.42 793.8v14.7M758.47 793.8v14.7" stroke="#878787" stroke-width="2.7" fill="none"/><path d="M191.94 793.8v14.7M519.72 793.8v14.7M604.69 793.8v14.7M653.25 793.8v14.7M730.14 793.8v14.7M762.51 793.8v14.7M766.56 793.8v14.7M770.61 793.8v14.7M774.65 793.8v14.7M778.7 793.8v14.7" stroke="#000" stroke-width="2.7" fill="none"/><text transform="translate(56.6 830.4)" font-size="9.55" text-anchor="end" font-style="italic" fill="#1a1a1a">l(3)psg2</text><path d="M62.45 820.5v14.7M66.5 820.5v14.7M74.59 820.5v14.7M78.64 820.5v14.7M82.68 820.5v14.7M86.73 820.5v14.7M90.78 820.5v14.7M94.82 820.5v14.7M98.87 820.5v14.7M102.92 820.5v14.7M106.96 820.5v14.7M111.01 820.5v14.7M115.06 820.5v14.7M119.1 820.5v14.7M123.15 820.5v14.7M127.2 820.5v14.7M131.24 820.5v14.7M135.29 820.5v14.7M139.34 820.5v14.7M143.38 820.5v14.7M147.43 820.5v14.7M151.48 820.5v14.7M155.52 820.5v14.7M159.57 820.5v14.7M163.62 820.5v14.7M167.66 820.5v14.7M171.71 820.5v14.7M175.75 820.5v14.7M179.8 820.5v14.7M183.85 820.5v14.7M187.89 820.5v14.7M191.94 820.5v14.7M195.99 820.5v14.7M200.03 820.5v14.7M204.08 820.5v14.7M208.13 820.5v14.7M212.17 820.5v14.7M216.22 820.5v14.7M220.27 820.5v14.7M224.31 820.5v14.7M228.36 820.5v14.7M232.41 820.5v14.7M236.45 820.5v14.7M240.5 820.5v14.7M244.55 820.5v14.7M248.59 820.5v14.7M252.64 820.5v14.7M256.69 820.5v14.7M260.73 820.5v14.7M264.78 820.5v14.7M268.83 820.5v14.7M272.87 820.5v14.7M276.92 820.5v14.7M280.97 820.5v14.7M285.01 820.5v14.7M289.06 820.5v14.7M293.11 820.5v14.7M297.15 820.5v14.7M301.2 820.5v14.7M305.25 820.5v14.7M309.29 820.5v14.7M313.34 820.5v14.7M317.39 820.5v14.7M321.43 820.5v14.7M325.48 820.5v14.7M329.53 820.5v14.7M333.57 820.5v14.7M337.62 820.5v14.7M341.67 820.5v14.7M349.76 820.5v14.7M353.81 820.5v14.7M357.85 820.5v14.7M361.9 820.5v14.7M365.94 820.5v14.7M369.99 820.5v14.7M374.04 820.5v14.7M378.08 820.5v14.7M382.13 820.5v14.7M386.18 820.5v14.7M390.22 820.5v14.7M394.27 820.5v14.7M398.32 820.5v14.7M402.36 820.5v14.7M406.41 820.5v14.7M422.6 820.5v14.7M426.64 820.5v14.7M430.69 820.5v14.7M434.74 820.5v14.7M438.78 820.5v14.7M442.83 820.5v14.7M446.88 820.5v14.7M450.92 820.5v14.7M454.97 820.5v14.7M459.02 820.5v14.7M463.06 820.5v14.7M467.11 820.5v14.7M471.16 820.5v14.7M475.2 820.5v14.7M479.25 820.5v14.7M483.3 820.5v14.7M487.34 820.5v14.7M491.39 820.5v14.7M495.44 820.5v14.7M499.48 820.5v14.7M503.53 820.5v14.7M507.58 820.5v14.7M511.62 820.5v14.7M515.67 820.5v14.7M523.76 820.5v14.7M527.81 820.5v14.7M531.86 820.5v14.7M535.9 820.5v14.7M539.95 820.5v14.7M544 820.5v14.7M548.04 820.5v14.7M552.09 820.5v14.7M556.14 820.5v14.7M560.18 820.5v14.7M564.23 820.5v14.7M568.27 820.5v14.7M572.32 820.5v14.7M576.37 820.5v14.7M580.41 820.5v14.7M584.46 820.5v14.7M588.51 820.5v14.7M592.55 820.5v14.7M596.6 820.5v14.7M604.69 820.5v14.7M608.74 820.5v14.7M612.79 820.5v14.7M616.83 820.5v14.7M620.88 820.5v14.7M624.93 820.5v14.7M628.97 820.5v14.7M633.02 820.5v14.7M637.07 820.5v14.7M641.11 820.5v14.7M645.16 820.5v14.7M649.21 820.5v14.7M657.3 820.5v14.7M661.35 820.5v14.7M665.39 820.5v14.7M673.49 820.5v14.7M677.53 820.5v14.7M681.58 820.5v14.7M685.63 820.5v14.7M689.67 820.5v14.7M693.72 820.5v14.7M701.81 820.5v14.7M705.86 820.5v14.7M709.91 820.5v14.7M713.95 820.5v14.7M718 820.5v14.7M722.05 820.5v14.7M726.09 820.5v14.7M730.14 820.5v14.7M734.19 820.5v14.7M738.23 820.5v14.7M746.33 820.5v14.7M750.37 820.5v14.7M754.42 820.5v14.7M758.47 820.5v14.7" stroke="#878787" stroke-width="2.7" fill="none"/><path d="M70.54 820.5v14.7M345.71 820.5v14.7M410.46 820.5v14.7M414.5 820.5v14.7M418.55 820.5v14.7M519.72 820.5v14.7M600.65 820.5v14.7M653.25 820.5v14.7M669.44 820.5v14.7M697.77 820.5v14.7M742.28 820.5v14.7M762.51 820.5v14.7M766.56 820.5v14.7M770.61 820.5v14.7M774.65 820.5v14.7M778.7 820.5v14.7" stroke="#000" stroke-width="2.7" fill="none"/><text transform="translate(56.6 856.9)" font-size="9.55" text-anchor="end" font-style="italic" fill="#1a1a1a">Sdc</text><path d="M62.45 847v14.7M66.5 847v14.7M70.54 847v14.7M74.59 847v14.7M78.64 847v14.7M82.68 847v14.7M86.73 847v14.7M90.78 847v14.7M94.82 847v14.7M98.87 847v14.7M102.92 847v14.7M106.96 847v14.7M111.01 847v14.7M115.06 847v14.7M119.1 847v14.7M123.15 847v14.7M127.2 847v14.7M131.24 847v14.7M135.29 847v14.7M139.34 847v14.7M143.38 847v14.7M147.43 847v14.7M151.48 847v14.7M155.52 847v14.7M159.57 847v14.7M163.62 847v14.7M167.66 847v14.7M171.71 847v14.7M175.75 847v14.7M179.8 847v14.7M183.85 847v14.7M187.89 847v14.7M191.94 847v14.7M195.99 847v14.7M200.03 847v14.7M204.08 847v14.7M208.13 847v14.7M212.17 847v14.7M216.22 847v14.7M220.27 847v14.7M224.31 847v14.7M228.36 847v14.7M232.41 847v14.7M236.45 847v14.7M240.5 847v14.7M244.55 847v14.7M248.59 847v14.7M252.64 847v14.7M256.69 847v14.7M260.73 847v14.7M264.78 847v14.7M268.83 847v14.7M272.87 847v14.7M276.92 847v14.7M280.97 847v14.7M285.01 847v14.7M289.06 847v14.7M293.11 847v14.7M297.15 847v14.7M301.2 847v14.7M305.25 847v14.7M309.29 847v14.7M313.34 847v14.7M317.39 847v14.7M321.43 847v14.7M325.48 847v14.7M329.53 847v14.7M333.57 847v14.7M341.67 847v14.7M345.71 847v14.7M353.81 847v14.7M357.85 847v14.7M361.9 847v14.7M365.94 847v14.7M369.99 847v14.7M374.04 847v14.7M378.08 847v14.7M382.13 847v14.7M386.18 847v14.7M390.22 847v14.7M394.27 847v14.7M398.32 847v14.7M402.36 847v14.7M406.41 847v14.7M410.46 847v14.7M414.5 847v14.7M418.55 847v14.7M422.6 847v14.7M426.64 847v14.7M430.69 847v14.7M434.74 847v14.7M438.78 847v14.7M442.83 847v14.7M446.88 847v14.7M450.92 847v14.7M454.97 847v14.7M459.02 847v14.7M463.06 847v14.7M467.11 847v14.7M471.16 847v14.7M475.2 847v14.7M483.3 847v14.7M491.39 847v14.7M495.44 847v14.7M499.48 847v14.7M503.53 847v14.7M507.58 847v14.7M511.62 847v14.7M515.67 847v14.7M523.76 847v14.7M527.81 847v14.7M531.86 847v14.7M535.9 847v14.7M539.95 847v14.7M548.04 847v14.7M552.09 847v14.7M556.14 847v14.7M560.18 847v14.7M564.23 847v14.7M568.27 847v14.7M576.37 847v14.7M580.41 847v14.7M584.46 847v14.7M588.51 847v14.7M592.55 847v14.7M604.69 847v14.7M608.74 847v14.7M612.79 847v14.7M616.83 847v14.7M620.88 847v14.7M624.93 847v14.7M628.97 847v14.7M633.02 847v14.7M637.07 847v14.7M641.11 847v14.7M645.16 847v14.7M649.21 847v14.7M653.25 847v14.7M657.3 847v14.7M661.35 847v14.7M665.39 847v14.7M669.44 847v14.7M673.49 847v14.7M677.53 847v14.7M681.58 847v14.7M689.67 847v14.7M693.72 847v14.7M697.77 847v14.7M701.81 847v14.7M705.86 847v14.7M709.91 847v14.7M713.95 847v14.7M718 847v14.7M722.05 847v14.7M726.09 847v14.7M730.14 847v14.7M734.19 847v14.7M742.28 847v14.7M746.33 847v14.7M754.42 847v14.7M758.47 847v14.7M778.7 847v14.7" stroke="#878787" stroke-width="2.7" fill="none"/><path d="M337.62 847v14.7M349.76 847v14.7M479.25 847v14.7M487.34 847v14.7M519.72 847v14.7M544 847v14.7M572.32 847v14.7M596.6 847v14.7M600.65 847v14.7M685.63 847v14.7M738.23 847v14.7M750.37 847v14.7M762.51 847v14.7M766.56 847v14.7M770.61 847v14.7M774.65 847v14.7" stroke="#000" stroke-width="2.7" fill="none"/><text transform="translate(56.6 883.4)" font-size="9.55" text-anchor="end" font-style="italic" fill="#1a1a1a">CG4065</text><path d="M62.45 873.5v14.7M66.5 873.5v14.7M70.54 873.5v14.7M74.59 873.5v14.7M78.64 873.5v14.7M82.68 873.5v14.7M86.73 873.5v14.7M90.78 873.5v14.7M94.82 873.5v14.7M98.87 873.5v14.7M102.92 873.5v14.7M106.96 873.5v14.7M111.01 873.5v14.7M115.06 873.5v14.7M119.1 873.5v14.7M123.15 873.5v14.7M127.2 873.5v14.7M131.24 873.5v14.7M135.29 873.5v14.7M139.34 873.5v14.7M143.38 873.5v14.7M147.43 873.5v14.7M151.48 873.5v14.7M155.52 873.5v14.7M163.62 873.5v14.7M171.71 873.5v14.7M175.75 873.5v14.7M179.8 873.5v14.7M183.85 873.5v14.7M191.94 873.5v14.7M195.99 873.5v14.7M204.08 873.5v14.7M208.13 873.5v14.7M212.17 873.5v14.7M216.22 873.5v14.7M220.27 873.5v14.7M224.31 873.5v14.7M228.36 873.5v14.7M232.41 873.5v14.7M236.45 873.5v14.7M240.5 873.5v14.7M244.55 873.5v14.7M248.59 873.5v14.7M252.64 873.5v14.7M256.69 873.5v14.7M260.73 873.5v14.7M264.78 873.5v14.7M268.83 873.5v14.7M272.87 873.5v14.7M276.92 873.5v14.7M280.97 873.5v14.7M285.01 873.5v14.7M289.06 873.5v14.7M293.11 873.5v14.7M297.15 873.5v14.7M301.2 873.5v14.7M305.25 873.5v14.7M309.29 873.5v14.7M313.34 873.5v14.7M317.39 873.5v14.7M321.43 873.5v14.7M325.48 873.5v14.7M329.53 873.5v14.7M333.57 873.5v14.7M337.62 873.5v14.7M341.67 873.5v14.7M345.71 873.5v14.7M349.76 873.5v14.7M353.81 873.5v14.7M357.85 873.5v14.7M361.9 873.5v14.7M365.94 873.5v14.7M369.99 873.5v14.7M374.04 873.5v14.7M378.08 873.5v14.7M382.13 873.5v14.7M386.18 873.5v14.7M390.22 873.5v14.7M398.32 873.5v14.7M402.36 873.5v14.7M406.41 873.5v14.7M410.46 873.5v14.7M414.5 873.5v14.7M418.55 873.5v14.7M422.6 873.5v14.7M426.64 873.5v14.7M430.69 873.5v14.7M434.74 873.5v14.7M438.78 873.5v14.7M442.83 873.5v14.7M446.88 873.5v14.7M450.92 873.5v14.7M459.02 873.5v14.7M463.06 873.5v14.7M467.11 873.5v14.7M471.16 873.5v14.7M475.2 873.5v14.7M483.3 873.5v14.7M487.34 873.5v14.7M491.39 873.5v14.7M495.44 873.5v14.7M499.48 873.5v14.7M503.53 873.5v14.7M507.58 873.5v14.7M511.62 873.5v14.7M515.67 873.5v14.7M519.72 873.5v14.7M523.76 873.5v14.7M527.81 873.5v14.7M531.86 873.5v14.7M535.9 873.5v14.7M539.95 873.5v14.7M544 873.5v14.7M548.04 873.5v14.7M552.09 873.5v14.7M556.14 873.5v14.7M560.18 873.5v14.7M564.23 873.5v14.7M568.27 873.5v14.7M572.32 873.5v14.7M576.37 873.5v14.7M580.41 873.5v14.7M584.46 873.5v14.7M588.51 873.5v14.7M592.55 873.5v14.7M596.6 873.5v14.7M600.65 873.5v14.7M604.69 873.5v14.7M608.74 873.5v14.7M612.79 873.5v14.7M616.83 873.5v14.7M620.88 873.5v14.7M624.93 873.5v14.7M628.97 873.5v14.7M633.02 873.5v14.7M637.07 873.5v14.7M641.11 873.5v14.7M645.16 873.5v14.7M649.21 873.5v14.7M653.25 873.5v14.7M657.3 873.5v14.7M661.35 873.5v14.7M665.39 873.5v14.7M669.44 873.5v14.7M673.49 873.5v14.7M677.53 873.5v14.7M681.58 873.5v14.7M685.63 873.5v14.7M689.67 873.5v14.7M693.72 873.5v14.7M697.77 873.5v14.7M701.81 873.5v14.7M705.86 873.5v14.7M709.91 873.5v14.7M718 873.5v14.7M722.05 873.5v14.7M726.09 873.5v14.7M738.23 873.5v14.7M742.28 873.5v14.7M746.33 873.5v14.7M750.37 873.5v14.7M754.42 873.5v14.7M762.51 873.5v14.7" stroke="#878787" stroke-width="2.7" fill="none"/><path d="M159.57 873.5v14.7M167.66 873.5v14.7M187.89 873.5v14.7M200.03 873.5v14.7M394.27 873.5v14.7M454.97 873.5v14.7M479.25 873.5v14.7M713.95 873.5v14.7M730.14 873.5v14.7M734.19 873.5v14.7M758.47 873.5v14.7M766.56 873.5v14.7M770.61 873.5v14.7M774.65 873.5v14.7M778.7 873.5v14.7" stroke="#000" stroke-width="2.7" fill="none"/><text transform="translate(56.6 909.9)" font-size="9.55" text-anchor="end" font-style="italic" fill="#1a1a1a">LRP1</text><path d="M62.45 900v14.7M66.5 900v14.7M70.54 900v14.7M74.59 900v14.7M82.68 900v14.7M86.73 900v14.7M90.78 900v14.7M94.82 900v14.7M98.87 900v14.7M102.92 900v14.7M106.96 900v14.7M111.01 900v14.7M115.06 900v14.7M119.1 900v14.7M123.15 900v14.7M127.2 900v14.7M131.24 900v14.7M135.29 900v14.7M139.34 900v14.7M143.38 900v14.7M147.43 900v14.7M151.48 900v14.7M155.52 900v14.7M159.57 900v14.7M163.62 900v14.7M167.66 900v14.7M171.71 900v14.7M175.75 900v14.7M179.8 900v14.7M187.89 900v14.7M191.94 900v14.7M195.99 900v14.7M200.03 900v14.7M204.08 900v14.7M208.13 900v14.7M212.17 900v14.7M216.22 900v14.7M220.27 900v14.7M224.31 900v14.7M228.36 900v14.7M232.41 900v14.7M236.45 900v14.7M240.5 900v14.7M244.55 900v14.7M248.59 900v14.7M252.64 900v14.7M256.69 900v14.7M260.73 900v14.7M264.78 900v14.7M268.83 900v14.7M272.87 900v14.7M276.92 900v14.7M280.97 900v14.7M285.01 900v14.7M289.06 900v14.7M293.11 900v14.7M297.15 900v14.7M301.2 900v14.7M305.25 900v14.7M309.29 900v14.7M313.34 900v14.7M317.39 900v14.7M321.43 900v14.7M325.48 900v14.7M329.53 900v14.7M333.57 900v14.7M341.67 900v14.7M345.71 900v14.7M349.76 900v14.7M353.81 900v14.7M357.85 900v14.7M361.9 900v14.7M365.94 900v14.7M369.99 900v14.7M378.08 900v14.7M382.13 900v14.7M386.18 900v14.7M390.22 900v14.7M394.27 900v14.7M398.32 900v14.7M402.36 900v14.7M406.41 900v14.7M410.46 900v14.7M418.55 900v14.7M422.6 900v14.7M426.64 900v14.7M430.69 900v14.7M434.74 900v14.7M438.78 900v14.7M442.83 900v14.7M446.88 900v14.7M450.92 900v14.7M454.97 900v14.7M459.02 900v14.7M463.06 900v14.7M467.11 900v14.7M471.16 900v14.7M475.2 900v14.7M479.25 900v14.7M483.3 900v14.7M491.39 900v14.7M495.44 900v14.7M499.48 900v14.7M503.53 900v14.7M507.58 900v14.7M511.62 900v14.7M515.67 900v14.7M519.72 900v14.7M523.76 900v14.7M527.81 900v14.7M531.86 900v14.7M535.9 900v14.7M539.95 900v14.7M544 900v14.7M548.04 900v14.7M552.09 900v14.7M556.14 900v14.7M560.18 900v14.7M564.23 900v14.7M568.27 900v14.7M572.32 900v14.7M576.37 900v14.7M580.41 900v14.7M584.46 900v14.7M588.51 900v14.7M592.55 900v14.7M596.6 900v14.7M600.65 900v14.7M604.69 900v14.7M608.74 900v14.7M612.79 900v14.7M616.83 900v14.7M620.88 900v14.7M628.97 900v14.7M633.02 900v14.7M637.07 900v14.7M641.11 900v14.7M645.16 900v14.7M649.21 900v14.7M653.25 900v14.7M657.3 900v14.7M661.35 900v14.7M665.39 900v14.7M669.44 900v14.7M673.49 900v14.7M677.53 900v14.7M681.58 900v14.7M685.63 900v14.7M693.72 900v14.7M697.77 900v14.7M701.81 900v14.7M705.86 900v14.7M709.91 900v14.7M713.95 900v14.7M718 900v14.7M722.05 900v14.7M726.09 900v14.7M730.14 900v14.7M734.19 900v14.7M742.28 900v14.7M746.33 900v14.7M750.37 900v14.7M754.42 900v14.7M762.51 900v14.7M766.56 900v14.7" stroke="#878787" stroke-width="2.7" fill="none"/><path d="M78.64 900v14.7M183.85 900v14.7M337.62 900v14.7M374.04 900v14.7M414.5 900v14.7M487.34 900v14.7M624.93 900v14.7M689.67 900v14.7M738.23 900v14.7M758.47 900v14.7M770.61 900v14.7M774.65 900v14.7M778.7 900v14.7" stroke="#000" stroke-width="2.7" fill="none"/><path d="M62 1076.1H776M62 982.7H776" stroke="#e0e0e0" stroke-width="1.35" fill="none"/><path d="M64 1059h7M67.8 1076h7M72.1 1061h7M84.2 1051h7M92 1027h7M112.5 1009h7M120.6 1012h7M132.9 1001h7M136.7 1016h7M140.8 1021h7M148.9 1020h7M153.1 1024h7M172.2 1014h7M181.5 1011h7M185.3 1011h7M201.9 1004h7M209.8 1009h7M213.7 1014h7M229.7 999h7M238.1 1007h7M246.1 1031h7M254.2 1013h7M282.2 1006h7M286.1 1011h7M302.6 1006h7M310.8 1005h7M327.1 1008h7M335 1004h7M347.3 1012h7M355.2 1009h7M363.3 1013h7M391.6 1015h7M399.8 1007h7M403.3 1003h7M407.8 1008h7M423.9 1022h7M448.3 1007h7M456.1 1008h7M468.3 1011h7M472.4 1012h7M476.6 1012h7M496.9 1002h7M500.8 1007h7M508.9 1010h7M513 998h7M520.5 1010h7M533 1011h7M537.2 1006h7M541 1014h7M569.6 1002h7M578 1001h7M606 1002h7M614.5 1016h7M618.3 1016h7M622.1 1009h7M642.3 1008h7M662.3 1000h7M674.6 1005h7M683.1 1009h7M686.9 1006h7M703.1 1005h7M715.2 1001h7M726.9 1000h7M751.8 1010h7M763.7 1003h7" stroke="#9c9c9c" stroke-width="1.8" fill="none"/><path d="M59.8 1057.5h7M75.9 1033.5h7M80.1 1062.5h7M88.2 1057.5h7M96.1 1020.5h7M100.3 1007.5h7M104.5 1020.5h7M108.4 1006.5h7M124.4 1024.5h7M128.6 1007.5h7M144.8 1003.5h7M165 1032.5h7M169.1 1006.5h7M189.5 1005.5h7M193.3 1000.5h7M197.6 1004.5h7M205.5 1039.5h7M217.8 1062.5h7M221.8 1004.5h7M225.9 1017.5h7M234 1006.5h7M242 1012.5h7M250.1 1023.5h7M258 1006.5h7M262.2 996.5h7M266.2 1003.5h7M270 1008.5h7M274.1 1017.5h7M278.4 1008.5h7M290 1008.5h7M294.5 1019.5h7M298.6 1008.5h7M306.7 1018.5h7M318.9 1015.5h7M323.1 1008.5h7M331.2 1012.5h7M338.8 1012.5h7M343 1011.5h7M351.1 1007.5h7M367.2 1005.5h7M371.3 1009.5h7M375.3 1005.5h7M379.4 1010.5h7M387.5 1016.5h7M395.8 1004.5h7M428.1 994.5h7M432.2 1014.5h7M436 1023.5h7M440 1018.5h7M444.1 1009.5h7M452.2 1034.5h7M460.2 1008.5h7M464.3 1009.5h7M488.5 1014.5h7M492.6 1004.5h7M504.9 1005.5h7M517.1 1011.5h7M529.1 997.5h7M545.3 1002.5h7M549.1 1013.5h7M553.2 1008.5h7M557.1 1013.5h7M561.3 1014.5h7M565.5 1008.5h7M573.9 1000.5h7M581.9 1005.5h7M590 1009.5h7M610.2 1013.5h7M626.3 1005.5h7M630.1 1001.5h7M634.2 1008.5h7M637 1012.5h7M646.3 1002.5h7M650.4 1004.5h7M654.6 1008.5h7M658.6 1009.5h7M666.9 999.5h7M670.8 1022.5h7M678.8 1005.5h7M691 997.5h7M694.8 1013.5h7M699 1007.5h7M711 1015.5h7M719.3 1006.5h7M722.7 1001.5h7M731 1013.5h7M735.4 1001.5h7M739.7 999.5h7M743.9 1018.5h7M747.7 1002.5h7M755.8 1007.5h7M767.5 998.5h7M772.2 997.5h7M776.4 999.5h7" stroke="#383838" stroke-width="1.05" fill="none"/><path d="M55.1 982.7H61.5V1076.1H55.1" stroke="#222" stroke-width="1.2" fill="none"/><text x="50.8" y="1077.7" font-size="7.3" text-anchor="middle" fill="#333">8</text><text x="50.8" y="984.3" font-size="7.3" text-anchor="middle" fill="#333">13</text><text transform="translate(34.8 1031.5) rotate(-90)" font-size="9.5" text-anchor="middle" fill="#1a1a1a">Normalized <tspan font-style="italic">Cyp6g1</tspan></text><text transform="translate(45.5 1029.5) rotate(-90)" font-size="9.5" text-anchor="middle" fill="#1a1a1a">transcription level</text></svg>
</body></html>
